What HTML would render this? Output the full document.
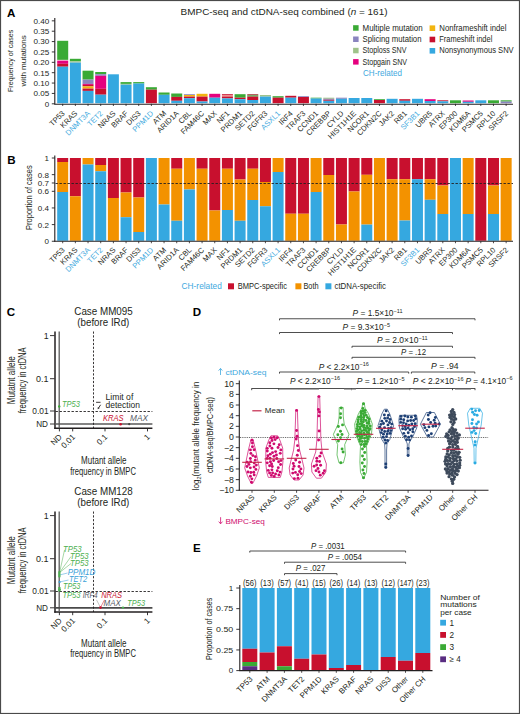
<!DOCTYPE html>
<html><head><meta charset="utf-8"><style>
html,body{margin:0;padding:0;background:#fff;}
svg{display:block;font-family:"Liberation Sans", sans-serif;}
</style></head><body>
<svg width="520" height="714" viewBox="0 0 520 714">
<rect width="520" height="714" fill="#fff"/>
<text x="6.90" y="16.80" font-size="11.6" fill="#000" font-weight="bold">A</text>
<text x="7.20" y="163.80" font-size="11.6" fill="#000" font-weight="bold">B</text>
<text x="6.80" y="316.20" font-size="11.6" fill="#000" font-weight="bold">C</text>
<text x="192.80" y="315.90" font-size="11.6" fill="#000" font-weight="bold">D</text>
<text x="192.90" y="551.90" font-size="11.6" fill="#000" font-weight="bold">E</text>
<rect x="57.20" y="40.80" width="11.00" height="19.10" fill="#3aaa35"/>
<rect x="57.20" y="59.90" width="11.00" height="0.90" fill="#f3b6cf"/>
<rect x="57.20" y="60.80" width="11.00" height="3.00" fill="#e5007e"/>
<rect x="57.20" y="63.80" width="11.00" height="2.90" fill="#c8102e"/>
<rect x="57.20" y="66.70" width="11.00" height="36.50" fill="#35a8e0"/>
<rect x="69.87" y="58.80" width="11.00" height="2.50" fill="#3aaa35"/>
<rect x="69.87" y="61.30" width="11.00" height="1.30" fill="#9fc38a"/>
<rect x="69.87" y="62.60" width="11.00" height="40.60" fill="#35a8e0"/>
<rect x="82.54" y="70.70" width="11.00" height="8.90" fill="#3aaa35"/>
<rect x="82.54" y="79.60" width="11.00" height="4.30" fill="#8a84bf"/>
<rect x="82.54" y="83.90" width="11.00" height="1.00" fill="#e5007e"/>
<rect x="82.54" y="84.90" width="11.00" height="1.50" fill="#c8102e"/>
<rect x="82.54" y="86.40" width="11.00" height="2.20" fill="#f2b50f"/>
<rect x="82.54" y="88.60" width="11.00" height="2.30" fill="#c8102e"/>
<rect x="82.54" y="90.90" width="11.00" height="12.30" fill="#35a8e0"/>
<rect x="95.21" y="72.00" width="11.00" height="2.20" fill="#3aaa35"/>
<rect x="95.21" y="74.20" width="11.00" height="1.60" fill="#8a84bf"/>
<rect x="95.21" y="75.80" width="11.00" height="13.00" fill="#e5007e"/>
<rect x="95.21" y="88.80" width="11.00" height="5.90" fill="#c8102e"/>
<rect x="95.21" y="94.70" width="11.00" height="8.50" fill="#35a8e0"/>
<rect x="107.88" y="74.30" width="11.00" height="28.90" fill="#35a8e0"/>
<rect x="120.55" y="82.10" width="11.00" height="1.80" fill="#3aaa35"/>
<rect x="120.55" y="83.90" width="11.00" height="0.80" fill="#9fc38a"/>
<rect x="120.55" y="84.70" width="11.00" height="18.50" fill="#35a8e0"/>
<rect x="133.22" y="82.10" width="11.00" height="1.40" fill="#3aaa35"/>
<rect x="133.22" y="83.50" width="11.00" height="19.70" fill="#35a8e0"/>
<rect x="145.89" y="87.20" width="11.00" height="2.50" fill="#3aaa35"/>
<rect x="145.89" y="89.70" width="11.00" height="13.50" fill="#c8102e"/>
<rect x="158.56" y="92.50" width="11.00" height="2.30" fill="#3aaa35"/>
<rect x="158.56" y="94.80" width="11.00" height="8.40" fill="#35a8e0"/>
<rect x="171.23" y="93.50" width="11.00" height="3.40" fill="#3aaa35"/>
<rect x="171.23" y="96.90" width="11.00" height="3.90" fill="#c8102e"/>
<rect x="171.23" y="100.80" width="11.00" height="2.40" fill="#35a8e0"/>
<rect x="183.90" y="94.20" width="11.00" height="0.80" fill="#8a84bf"/>
<rect x="183.90" y="95.00" width="11.00" height="1.60" fill="#f2b50f"/>
<rect x="183.90" y="96.60" width="11.00" height="1.60" fill="#c8102e"/>
<rect x="183.90" y="98.20" width="11.00" height="5.00" fill="#35a8e0"/>
<rect x="196.57" y="93.80" width="11.00" height="2.80" fill="#f2b50f"/>
<rect x="196.57" y="96.60" width="11.00" height="4.90" fill="#c8102e"/>
<rect x="196.57" y="101.50" width="11.00" height="1.70" fill="#35a8e0"/>
<rect x="209.24" y="93.80" width="11.00" height="3.90" fill="#e5007e"/>
<rect x="209.24" y="97.70" width="11.00" height="5.50" fill="#35a8e0"/>
<rect x="221.91" y="94.20" width="11.00" height="1.00" fill="#c8102e"/>
<rect x="221.91" y="95.20" width="11.00" height="1.40" fill="#f07c7c"/>
<rect x="221.91" y="96.60" width="11.00" height="1.80" fill="#c8102e"/>
<rect x="221.91" y="98.40" width="11.00" height="4.80" fill="#35a8e0"/>
<rect x="234.58" y="94.20" width="11.00" height="3.50" fill="#3aaa35"/>
<rect x="234.58" y="97.70" width="11.00" height="1.50" fill="#c8102e"/>
<rect x="234.58" y="99.20" width="11.00" height="4.00" fill="#35a8e0"/>
<rect x="247.25" y="94.20" width="11.00" height="1.20" fill="#a23a3a"/>
<rect x="247.25" y="95.40" width="11.00" height="1.20" fill="#3aaa35"/>
<rect x="247.25" y="96.60" width="11.00" height="3.40" fill="#c8102e"/>
<rect x="247.25" y="100.00" width="11.00" height="3.20" fill="#35a8e0"/>
<rect x="259.92" y="95.00" width="11.00" height="1.60" fill="#9fc38a"/>
<rect x="259.92" y="96.60" width="11.00" height="6.60" fill="#35a8e0"/>
<rect x="272.59" y="96.20" width="11.00" height="1.50" fill="#3aaa35"/>
<rect x="272.59" y="97.70" width="11.00" height="5.50" fill="#c8102e"/>
<rect x="285.26" y="95.80" width="11.00" height="1.90" fill="#c8102e"/>
<rect x="285.26" y="97.70" width="11.00" height="5.50" fill="#35a8e0"/>
<rect x="297.93" y="96.20" width="11.00" height="0.80" fill="#8a84bf"/>
<rect x="297.93" y="97.00" width="11.00" height="6.20" fill="#c8102e"/>
<rect x="310.60" y="97.70" width="11.00" height="0.80" fill="#3aaa35"/>
<rect x="310.60" y="98.50" width="11.00" height="4.70" fill="#35a8e0"/>
<rect x="323.27" y="97.70" width="11.00" height="1.10" fill="#9fc38a"/>
<rect x="323.27" y="98.80" width="11.00" height="1.00" fill="#8a84bf"/>
<rect x="323.27" y="99.80" width="11.00" height="1.00" fill="#c8102e"/>
<rect x="323.27" y="100.80" width="11.00" height="2.40" fill="#35a8e0"/>
<rect x="335.94" y="97.70" width="11.00" height="1.10" fill="#8a84bf"/>
<rect x="335.94" y="98.80" width="11.00" height="4.40" fill="#35a8e0"/>
<rect x="348.61" y="98.00" width="11.00" height="5.20" fill="#35a8e0"/>
<rect x="361.28" y="98.00" width="11.00" height="5.20" fill="#35a8e0"/>
<rect x="373.95" y="99.20" width="11.00" height="0.80" fill="#3aaa35"/>
<rect x="373.95" y="100.00" width="11.00" height="3.20" fill="#c8102e"/>
<rect x="386.62" y="98.80" width="11.00" height="4.40" fill="#35a8e0"/>
<rect x="399.29" y="99.20" width="11.00" height="1.60" fill="#c8102e"/>
<rect x="399.29" y="100.80" width="11.00" height="2.40" fill="#35a8e0"/>
<rect x="411.96" y="98.80" width="11.00" height="4.40" fill="#35a8e0"/>
<rect x="424.63" y="99.20" width="11.00" height="1.80" fill="#e5007e"/>
<rect x="424.63" y="101.00" width="11.00" height="2.20" fill="#35a8e0"/>
<rect x="437.30" y="100.30" width="11.00" height="1.00" fill="#c8102e"/>
<rect x="437.30" y="101.30" width="11.00" height="1.90" fill="#35a8e0"/>
<rect x="449.97" y="100.30" width="11.00" height="2.90" fill="#3aaa35"/>
<rect x="462.64" y="100.50" width="11.00" height="1.30" fill="#e5007e"/>
<rect x="462.64" y="101.80" width="11.00" height="1.40" fill="#35a8e0"/>
<rect x="475.31" y="100.30" width="11.00" height="2.90" fill="#35a8e0"/>
<rect x="487.98" y="100.30" width="11.00" height="2.90" fill="#3aaa35"/>
<rect x="500.65" y="100.30" width="11.00" height="1.30" fill="#3aaa35"/>
<rect x="500.65" y="101.60" width="11.00" height="1.60" fill="#8a84bf"/>
<line x1="54.80" y1="18.00" x2="54.80" y2="104.30" stroke="#231f20" stroke-width="1.1"/>
<line x1="54.30" y1="104.20" x2="513.00" y2="104.20" stroke="#231f20" stroke-width="1.1"/>
<line x1="51.80" y1="103.80" x2="54.80" y2="103.80" stroke="#231f20" stroke-width="0.9"/>
<text x="49.30" y="106.70" font-size="8.0" fill="#231f20" text-anchor="end">0</text>
<line x1="51.80" y1="93.43" x2="54.80" y2="93.43" stroke="#231f20" stroke-width="0.9"/>
<text x="49.30" y="96.33" font-size="8.0" fill="#231f20" text-anchor="end" textLength="15.80" lengthAdjust="spacingAndGlyphs">0.05</text>
<line x1="51.80" y1="83.06" x2="54.80" y2="83.06" stroke="#231f20" stroke-width="0.9"/>
<text x="49.30" y="85.96" font-size="8.0" fill="#231f20" text-anchor="end" textLength="15.80" lengthAdjust="spacingAndGlyphs">0.10</text>
<line x1="51.80" y1="72.69" x2="54.80" y2="72.69" stroke="#231f20" stroke-width="0.9"/>
<text x="49.30" y="75.59" font-size="8.0" fill="#231f20" text-anchor="end" textLength="15.80" lengthAdjust="spacingAndGlyphs">0.15</text>
<line x1="51.80" y1="62.32" x2="54.80" y2="62.32" stroke="#231f20" stroke-width="0.9"/>
<text x="49.30" y="65.22" font-size="8.0" fill="#231f20" text-anchor="end" textLength="15.80" lengthAdjust="spacingAndGlyphs">0.20</text>
<line x1="51.80" y1="51.95" x2="54.80" y2="51.95" stroke="#231f20" stroke-width="0.9"/>
<text x="49.30" y="54.85" font-size="8.0" fill="#231f20" text-anchor="end" textLength="15.80" lengthAdjust="spacingAndGlyphs">0.25</text>
<line x1="51.80" y1="41.58" x2="54.80" y2="41.58" stroke="#231f20" stroke-width="0.9"/>
<text x="49.30" y="44.48" font-size="8.0" fill="#231f20" text-anchor="end" textLength="15.80" lengthAdjust="spacingAndGlyphs">0.30</text>
<line x1="51.80" y1="31.21" x2="54.80" y2="31.21" stroke="#231f20" stroke-width="0.9"/>
<text x="49.30" y="34.11" font-size="8.0" fill="#231f20" text-anchor="end" textLength="15.80" lengthAdjust="spacingAndGlyphs">0.35</text>
<line x1="51.80" y1="20.84" x2="54.80" y2="20.84" stroke="#231f20" stroke-width="0.9"/>
<text x="49.30" y="23.74" font-size="8.0" fill="#231f20" text-anchor="end" textLength="15.80" lengthAdjust="spacingAndGlyphs">0.40</text>
<line x1="62.70" y1="103.80" x2="62.70" y2="106.00" stroke="#231f20" stroke-width="0.8"/>
<text x="65.30" y="113.90" font-size="7.6" fill="#231f20" text-anchor="end" transform="rotate(-45 65.30 113.90)">TP53</text>
<line x1="75.37" y1="103.80" x2="75.37" y2="106.00" stroke="#231f20" stroke-width="0.8"/>
<text x="77.97" y="113.90" font-size="7.6" fill="#231f20" text-anchor="end" transform="rotate(-45 77.97 113.90)">KRAS</text>
<line x1="88.04" y1="103.80" x2="88.04" y2="106.00" stroke="#231f20" stroke-width="0.8"/>
<text x="90.64" y="113.90" font-size="7.6" fill="#41a9de" text-anchor="end" transform="rotate(-45 90.64 113.90)">DNMT3A</text>
<line x1="100.71" y1="103.80" x2="100.71" y2="106.00" stroke="#231f20" stroke-width="0.8"/>
<text x="103.31" y="113.90" font-size="7.6" fill="#41a9de" text-anchor="end" transform="rotate(-45 103.31 113.90)">TET2</text>
<line x1="113.38" y1="103.80" x2="113.38" y2="106.00" stroke="#231f20" stroke-width="0.8"/>
<text x="115.98" y="113.90" font-size="7.6" fill="#231f20" text-anchor="end" transform="rotate(-45 115.98 113.90)">NRAS</text>
<line x1="126.05" y1="103.80" x2="126.05" y2="106.00" stroke="#231f20" stroke-width="0.8"/>
<text x="128.65" y="113.90" font-size="7.6" fill="#231f20" text-anchor="end" transform="rotate(-45 128.65 113.90)">BRAF</text>
<line x1="138.72" y1="103.80" x2="138.72" y2="106.00" stroke="#231f20" stroke-width="0.8"/>
<text x="141.32" y="113.90" font-size="7.6" fill="#231f20" text-anchor="end" transform="rotate(-45 141.32 113.90)">DIS3</text>
<line x1="151.39" y1="103.80" x2="151.39" y2="106.00" stroke="#231f20" stroke-width="0.8"/>
<text x="153.99" y="113.90" font-size="7.6" fill="#41a9de" text-anchor="end" transform="rotate(-45 153.99 113.90)">PPM1D</text>
<line x1="164.06" y1="103.80" x2="164.06" y2="106.00" stroke="#231f20" stroke-width="0.8"/>
<text x="166.66" y="113.90" font-size="7.6" fill="#231f20" text-anchor="end" transform="rotate(-45 166.66 113.90)">ATM</text>
<line x1="176.73" y1="103.80" x2="176.73" y2="106.00" stroke="#231f20" stroke-width="0.8"/>
<text x="179.33" y="113.90" font-size="7.6" fill="#231f20" text-anchor="end" transform="rotate(-45 179.33 113.90)">ARID1A</text>
<line x1="189.40" y1="103.80" x2="189.40" y2="106.00" stroke="#231f20" stroke-width="0.8"/>
<text x="192.00" y="113.90" font-size="7.6" fill="#231f20" text-anchor="end" transform="rotate(-45 192.00 113.90)">CBL</text>
<line x1="202.07" y1="103.80" x2="202.07" y2="106.00" stroke="#231f20" stroke-width="0.8"/>
<text x="204.67" y="113.90" font-size="7.6" fill="#231f20" text-anchor="end" transform="rotate(-45 204.67 113.90)">FAM46C</text>
<line x1="214.74" y1="103.80" x2="214.74" y2="106.00" stroke="#231f20" stroke-width="0.8"/>
<text x="217.34" y="113.90" font-size="7.6" fill="#231f20" text-anchor="end" transform="rotate(-45 217.34 113.90)">MAX</text>
<line x1="227.41" y1="103.80" x2="227.41" y2="106.00" stroke="#231f20" stroke-width="0.8"/>
<text x="230.01" y="113.90" font-size="7.6" fill="#231f20" text-anchor="end" transform="rotate(-45 230.01 113.90)">NF1</text>
<line x1="240.08" y1="103.80" x2="240.08" y2="106.00" stroke="#231f20" stroke-width="0.8"/>
<text x="242.68" y="113.90" font-size="7.6" fill="#231f20" text-anchor="end" transform="rotate(-45 242.68 113.90)">PRDM1</text>
<line x1="252.75" y1="103.80" x2="252.75" y2="106.00" stroke="#231f20" stroke-width="0.8"/>
<text x="255.35" y="113.90" font-size="7.6" fill="#231f20" text-anchor="end" transform="rotate(-45 255.35 113.90)">SETD2</text>
<line x1="265.42" y1="103.80" x2="265.42" y2="106.00" stroke="#231f20" stroke-width="0.8"/>
<text x="268.02" y="113.90" font-size="7.6" fill="#231f20" text-anchor="end" transform="rotate(-45 268.02 113.90)">FGFR3</text>
<line x1="278.09" y1="103.80" x2="278.09" y2="106.00" stroke="#231f20" stroke-width="0.8"/>
<text x="280.69" y="113.90" font-size="7.6" fill="#41a9de" text-anchor="end" transform="rotate(-45 280.69 113.90)">ASXL1</text>
<line x1="290.76" y1="103.80" x2="290.76" y2="106.00" stroke="#231f20" stroke-width="0.8"/>
<text x="293.36" y="113.90" font-size="7.6" fill="#231f20" text-anchor="end" transform="rotate(-45 293.36 113.90)">IRF4</text>
<line x1="303.43" y1="103.80" x2="303.43" y2="106.00" stroke="#231f20" stroke-width="0.8"/>
<text x="306.03" y="113.90" font-size="7.6" fill="#231f20" text-anchor="end" transform="rotate(-45 306.03 113.90)">TRAF3</text>
<line x1="316.10" y1="103.80" x2="316.10" y2="106.00" stroke="#231f20" stroke-width="0.8"/>
<text x="318.70" y="113.90" font-size="7.6" fill="#231f20" text-anchor="end" transform="rotate(-45 318.70 113.90)">CCND1</text>
<line x1="328.77" y1="103.80" x2="328.77" y2="106.00" stroke="#231f20" stroke-width="0.8"/>
<text x="331.37" y="113.90" font-size="7.6" fill="#231f20" text-anchor="end" transform="rotate(-45 331.37 113.90)">CREBBP</text>
<line x1="341.44" y1="103.80" x2="341.44" y2="106.00" stroke="#231f20" stroke-width="0.8"/>
<text x="344.04" y="113.90" font-size="7.6" fill="#231f20" text-anchor="end" transform="rotate(-45 344.04 113.90)">CYLD</text>
<line x1="354.11" y1="103.80" x2="354.11" y2="106.00" stroke="#231f20" stroke-width="0.8"/>
<text x="356.71" y="113.90" font-size="7.6" fill="#231f20" text-anchor="end" transform="rotate(-45 356.71 113.90)">HIST1H1E</text>
<line x1="366.78" y1="103.80" x2="366.78" y2="106.00" stroke="#231f20" stroke-width="0.8"/>
<text x="369.38" y="113.90" font-size="7.6" fill="#231f20" text-anchor="end" transform="rotate(-45 369.38 113.90)">NCOR1</text>
<line x1="379.45" y1="103.80" x2="379.45" y2="106.00" stroke="#231f20" stroke-width="0.8"/>
<text x="382.05" y="113.90" font-size="7.6" fill="#231f20" text-anchor="end" transform="rotate(-45 382.05 113.90)">CDKN2C</text>
<line x1="392.12" y1="103.80" x2="392.12" y2="106.00" stroke="#231f20" stroke-width="0.8"/>
<text x="394.72" y="113.90" font-size="7.6" fill="#231f20" text-anchor="end" transform="rotate(-45 394.72 113.90)">JAK2</text>
<line x1="404.79" y1="103.80" x2="404.79" y2="106.00" stroke="#231f20" stroke-width="0.8"/>
<text x="407.39" y="113.90" font-size="7.6" fill="#231f20" text-anchor="end" transform="rotate(-45 407.39 113.90)">RB1</text>
<line x1="417.46" y1="103.80" x2="417.46" y2="106.00" stroke="#231f20" stroke-width="0.8"/>
<text x="420.06" y="113.90" font-size="7.6" fill="#41a9de" text-anchor="end" transform="rotate(-45 420.06 113.90)">SF3B1</text>
<line x1="430.13" y1="103.80" x2="430.13" y2="106.00" stroke="#231f20" stroke-width="0.8"/>
<text x="432.73" y="113.90" font-size="7.6" fill="#231f20" text-anchor="end" transform="rotate(-45 432.73 113.90)">UBR5</text>
<line x1="442.80" y1="103.80" x2="442.80" y2="106.00" stroke="#231f20" stroke-width="0.8"/>
<text x="445.40" y="113.90" font-size="7.6" fill="#231f20" text-anchor="end" transform="rotate(-45 445.40 113.90)">ATRX</text>
<line x1="455.47" y1="103.80" x2="455.47" y2="106.00" stroke="#231f20" stroke-width="0.8"/>
<text x="458.07" y="113.90" font-size="7.6" fill="#231f20" text-anchor="end" transform="rotate(-45 458.07 113.90)">EP300</text>
<line x1="468.14" y1="103.80" x2="468.14" y2="106.00" stroke="#231f20" stroke-width="0.8"/>
<text x="470.74" y="113.90" font-size="7.6" fill="#231f20" text-anchor="end" transform="rotate(-45 470.74 113.90)">KDM6A</text>
<line x1="480.81" y1="103.80" x2="480.81" y2="106.00" stroke="#231f20" stroke-width="0.8"/>
<text x="483.41" y="113.90" font-size="7.6" fill="#231f20" text-anchor="end" transform="rotate(-45 483.41 113.90)">PSMC5</text>
<line x1="493.48" y1="103.80" x2="493.48" y2="106.00" stroke="#231f20" stroke-width="0.8"/>
<text x="496.08" y="113.90" font-size="7.6" fill="#231f20" text-anchor="end" transform="rotate(-45 496.08 113.90)">RPL10</text>
<line x1="506.15" y1="103.80" x2="506.15" y2="106.00" stroke="#231f20" stroke-width="0.8"/>
<text x="508.75" y="113.90" font-size="7.6" fill="#231f20" text-anchor="end" transform="rotate(-45 508.75 113.90)">SRSF2</text>
<text x="13.40" y="60.80" font-size="8.0" fill="#231f20" text-anchor="middle" textLength="62.40" lengthAdjust="spacingAndGlyphs" transform="rotate(-90 13.40 60.80)">Frequency of cases</text>
<text x="26.30" y="60.80" font-size="8.0" fill="#231f20" text-anchor="middle" textLength="51.20" lengthAdjust="spacingAndGlyphs" transform="rotate(-90 26.30 60.80)">with mutations</text>
<text x="180.6" y="15" font-size="9.9" fill="#231f20" textLength="206.9" lengthAdjust="spacingAndGlyphs">BMPC-seq and ctDNA-seq combined (<tspan font-style="italic">n</tspan> = 161)</text>
<rect x="353.10" y="25.20" width="5.50" height="5.50" fill="#3aaa35"/>
<text x="362.50" y="30.60" font-size="8.2" fill="#231f20" textLength="60.20" lengthAdjust="spacingAndGlyphs">Multiple mutation</text>
<rect x="353.10" y="36.50" width="5.50" height="5.50" fill="#8a84bf"/>
<text x="362.50" y="41.90" font-size="8.2" fill="#231f20" textLength="59.00" lengthAdjust="spacingAndGlyphs">Splicing mutation</text>
<rect x="353.10" y="47.80" width="5.50" height="5.50" fill="#9fc38a"/>
<text x="362.50" y="53.20" font-size="8.2" fill="#231f20" textLength="44.00" lengthAdjust="spacingAndGlyphs">Stoploss SNV</text>
<rect x="353.10" y="59.10" width="5.50" height="5.50" fill="#e5007e"/>
<text x="362.50" y="64.50" font-size="8.2" fill="#231f20" textLength="44.50" lengthAdjust="spacingAndGlyphs">Stopgain SNV</text>
<text x="363.00" y="76.00" font-size="8.4" fill="#41a9de" textLength="39.00" lengthAdjust="spacingAndGlyphs">CH-related</text>
<rect x="429.60" y="25.40" width="5.60" height="5.60" fill="#f2b50f"/>
<text x="439.30" y="30.80" font-size="8.2" fill="#231f20" textLength="67.10" lengthAdjust="spacingAndGlyphs">Nonframeshift indel</text>
<rect x="429.60" y="36.70" width="5.60" height="5.60" fill="#c8102e"/>
<text x="439.30" y="42.10" font-size="8.2" fill="#231f20" textLength="53.00" lengthAdjust="spacingAndGlyphs">Frameshift indel</text>
<rect x="429.60" y="48.00" width="5.60" height="5.60" fill="#35a8e0"/>
<text x="439.30" y="53.40" font-size="8.2" fill="#231f20" textLength="74.40" lengthAdjust="spacingAndGlyphs">Nonsynonymous SNV</text>
<rect x="57.20" y="158.00" width="11.00" height="4.00" fill="#c8102e"/>
<rect x="57.20" y="162.00" width="11.00" height="30.00" fill="#f39200"/>
<rect x="57.20" y="192.00" width="11.00" height="48.75" fill="#35a8e0"/>
<rect x="69.87" y="158.00" width="11.00" height="38.25" fill="#c8102e"/>
<rect x="69.87" y="196.25" width="11.00" height="44.50" fill="#f39200"/>
<rect x="82.54" y="158.00" width="11.00" height="6.50" fill="#f39200"/>
<rect x="82.54" y="164.50" width="11.00" height="76.25" fill="#35a8e0"/>
<rect x="95.21" y="158.00" width="11.00" height="7.00" fill="#c8102e"/>
<rect x="95.21" y="165.00" width="11.00" height="6.25" fill="#f39200"/>
<rect x="95.21" y="171.25" width="11.00" height="69.50" fill="#35a8e0"/>
<rect x="107.88" y="158.00" width="11.00" height="40.00" fill="#c8102e"/>
<rect x="107.88" y="198.00" width="11.00" height="42.75" fill="#f39200"/>
<rect x="120.55" y="158.00" width="11.00" height="34.50" fill="#c8102e"/>
<rect x="120.55" y="192.50" width="11.00" height="24.70" fill="#f39200"/>
<rect x="120.55" y="217.20" width="11.00" height="23.55" fill="#35a8e0"/>
<rect x="133.22" y="158.00" width="11.00" height="39.50" fill="#c8102e"/>
<rect x="133.22" y="197.50" width="11.00" height="34.50" fill="#f39200"/>
<rect x="133.22" y="232.00" width="11.00" height="8.75" fill="#35a8e0"/>
<rect x="145.89" y="158.00" width="11.00" height="82.75" fill="#35a8e0"/>
<rect x="158.56" y="158.00" width="11.00" height="46.50" fill="#f39200"/>
<rect x="158.56" y="204.50" width="11.00" height="36.25" fill="#35a8e0"/>
<rect x="171.23" y="158.00" width="11.00" height="10.75" fill="#c8102e"/>
<rect x="171.23" y="168.75" width="11.00" height="52.00" fill="#f39200"/>
<rect x="171.23" y="220.75" width="11.00" height="20.00" fill="#35a8e0"/>
<rect x="183.90" y="158.00" width="11.00" height="31.50" fill="#f39200"/>
<rect x="183.90" y="189.50" width="11.00" height="51.25" fill="#35a8e0"/>
<rect x="196.57" y="158.00" width="11.00" height="10.75" fill="#c8102e"/>
<rect x="196.57" y="168.75" width="11.00" height="72.00" fill="#f39200"/>
<rect x="209.24" y="158.00" width="11.00" height="52.50" fill="#c8102e"/>
<rect x="209.24" y="210.50" width="11.00" height="30.25" fill="#f39200"/>
<rect x="221.91" y="158.00" width="11.00" height="10.75" fill="#c8102e"/>
<rect x="221.91" y="168.75" width="11.00" height="41.25" fill="#f39200"/>
<rect x="221.91" y="210.00" width="11.00" height="30.75" fill="#35a8e0"/>
<rect x="234.58" y="158.00" width="11.00" height="21.50" fill="#c8102e"/>
<rect x="234.58" y="179.50" width="11.00" height="41.25" fill="#f39200"/>
<rect x="234.58" y="220.75" width="11.00" height="20.00" fill="#35a8e0"/>
<rect x="247.25" y="158.00" width="11.00" height="10.75" fill="#c8102e"/>
<rect x="247.25" y="168.75" width="11.00" height="31.25" fill="#f39200"/>
<rect x="247.25" y="200.00" width="11.00" height="40.75" fill="#35a8e0"/>
<rect x="259.92" y="158.00" width="11.00" height="24.00" fill="#c8102e"/>
<rect x="259.92" y="182.00" width="11.00" height="24.25" fill="#f39200"/>
<rect x="259.92" y="206.25" width="11.00" height="34.50" fill="#35a8e0"/>
<rect x="272.59" y="158.00" width="11.00" height="14.00" fill="#f39200"/>
<rect x="272.59" y="172.00" width="11.00" height="68.75" fill="#35a8e0"/>
<rect x="285.26" y="158.00" width="11.00" height="55.75" fill="#c8102e"/>
<rect x="285.26" y="213.75" width="11.00" height="27.00" fill="#f39200"/>
<rect x="297.93" y="158.00" width="11.00" height="55.75" fill="#c8102e"/>
<rect x="297.93" y="213.75" width="11.00" height="27.00" fill="#f39200"/>
<rect x="310.60" y="158.00" width="11.00" height="34.00" fill="#f39200"/>
<rect x="310.60" y="192.00" width="11.00" height="48.75" fill="#35a8e0"/>
<rect x="323.27" y="158.00" width="11.00" height="17.00" fill="#c8102e"/>
<rect x="323.27" y="175.00" width="11.00" height="65.75" fill="#f39200"/>
<rect x="335.94" y="158.00" width="11.00" height="66.50" fill="#c8102e"/>
<rect x="335.94" y="224.50" width="11.00" height="16.25" fill="#f39200"/>
<rect x="348.61" y="158.00" width="11.00" height="33.50" fill="#c8102e"/>
<rect x="348.61" y="191.50" width="11.00" height="49.25" fill="#f39200"/>
<rect x="361.28" y="158.00" width="11.00" height="16.80" fill="#c8102e"/>
<rect x="361.28" y="174.80" width="11.00" height="49.80" fill="#f39200"/>
<rect x="361.28" y="224.60" width="11.00" height="16.15" fill="#35a8e0"/>
<rect x="373.95" y="158.00" width="11.00" height="82.75" fill="#f39200"/>
<rect x="386.62" y="158.00" width="11.00" height="21.20" fill="#c8102e"/>
<rect x="386.62" y="179.20" width="11.00" height="61.55" fill="#f39200"/>
<rect x="399.29" y="158.00" width="11.00" height="21.20" fill="#c8102e"/>
<rect x="399.29" y="179.20" width="11.00" height="41.30" fill="#f39200"/>
<rect x="399.29" y="220.50" width="11.00" height="20.25" fill="#35a8e0"/>
<rect x="411.96" y="158.00" width="11.00" height="21.20" fill="#c8102e"/>
<rect x="411.96" y="179.20" width="11.00" height="61.55" fill="#35a8e0"/>
<rect x="424.63" y="158.00" width="11.00" height="21.20" fill="#c8102e"/>
<rect x="424.63" y="179.20" width="11.00" height="20.60" fill="#f39200"/>
<rect x="424.63" y="199.80" width="11.00" height="40.95" fill="#35a8e0"/>
<rect x="437.30" y="158.00" width="11.00" height="27.50" fill="#c8102e"/>
<rect x="437.30" y="185.50" width="11.00" height="28.50" fill="#f39200"/>
<rect x="437.30" y="214.00" width="11.00" height="26.75" fill="#35a8e0"/>
<rect x="449.97" y="158.00" width="11.00" height="82.75" fill="#35a8e0"/>
<rect x="462.64" y="158.00" width="11.00" height="56.00" fill="#f39200"/>
<rect x="462.64" y="214.00" width="11.00" height="26.75" fill="#35a8e0"/>
<rect x="475.31" y="158.00" width="11.00" height="82.75" fill="#c8102e"/>
<rect x="487.98" y="158.00" width="11.00" height="27.50" fill="#c8102e"/>
<rect x="487.98" y="185.50" width="11.00" height="28.50" fill="#f39200"/>
<rect x="487.98" y="214.00" width="11.00" height="26.75" fill="#35a8e0"/>
<rect x="500.65" y="158.00" width="11.00" height="82.75" fill="#f39200"/>
<line x1="54.80" y1="155.60" x2="54.80" y2="241.75" stroke="#231f20" stroke-width="1.1"/>
<line x1="54.30" y1="241.25" x2="513.00" y2="241.25" stroke="#231f20" stroke-width="1.1"/>
<line x1="51.80" y1="158.00" x2="54.80" y2="158.00" stroke="#231f20" stroke-width="0.9"/>
<text x="49.00" y="160.90" font-size="8.0" fill="#231f20" text-anchor="end">1</text>
<line x1="51.80" y1="174.65" x2="54.80" y2="174.65" stroke="#231f20" stroke-width="0.9"/>
<text x="49.00" y="177.55" font-size="8.0" fill="#231f20" text-anchor="end" textLength="11.20" lengthAdjust="spacingAndGlyphs">0.8</text>
<line x1="51.80" y1="182.97" x2="54.80" y2="182.97" stroke="#231f20" stroke-width="0.9"/>
<text x="49.00" y="185.88" font-size="8.0" fill="#231f20" text-anchor="end" textLength="11.20" lengthAdjust="spacingAndGlyphs">0.7</text>
<line x1="51.80" y1="191.30" x2="54.80" y2="191.30" stroke="#231f20" stroke-width="0.9"/>
<text x="49.00" y="194.20" font-size="8.0" fill="#231f20" text-anchor="end" textLength="11.20" lengthAdjust="spacingAndGlyphs">0.6</text>
<line x1="51.80" y1="207.95" x2="54.80" y2="207.95" stroke="#231f20" stroke-width="0.9"/>
<text x="49.00" y="210.85" font-size="8.0" fill="#231f20" text-anchor="end" textLength="11.20" lengthAdjust="spacingAndGlyphs">0.4</text>
<line x1="51.80" y1="224.60" x2="54.80" y2="224.60" stroke="#231f20" stroke-width="0.9"/>
<text x="49.00" y="227.50" font-size="8.0" fill="#231f20" text-anchor="end" textLength="11.20" lengthAdjust="spacingAndGlyphs">0.2</text>
<line x1="51.80" y1="241.25" x2="54.80" y2="241.25" stroke="#231f20" stroke-width="0.9"/>
<text x="49.00" y="244.15" font-size="8.0" fill="#231f20" text-anchor="end">0</text>
<line x1="55.50" y1="183.50" x2="513.00" y2="183.50" stroke="#231f20" stroke-width="0.9" stroke-dasharray="2.4,1.6"/>
<line x1="62.70" y1="241.25" x2="62.70" y2="243.25" stroke="#231f20" stroke-width="0.8"/>
<text x="65.30" y="250.50" font-size="7.6" fill="#231f20" text-anchor="end" transform="rotate(-45 65.30 250.50)">TP53</text>
<line x1="75.37" y1="241.25" x2="75.37" y2="243.25" stroke="#231f20" stroke-width="0.8"/>
<text x="77.97" y="250.50" font-size="7.6" fill="#231f20" text-anchor="end" transform="rotate(-45 77.97 250.50)">KRAS</text>
<line x1="88.04" y1="241.25" x2="88.04" y2="243.25" stroke="#231f20" stroke-width="0.8"/>
<text x="90.64" y="250.50" font-size="7.6" fill="#41a9de" text-anchor="end" transform="rotate(-45 90.64 250.50)">DNMT3A</text>
<line x1="100.71" y1="241.25" x2="100.71" y2="243.25" stroke="#231f20" stroke-width="0.8"/>
<text x="103.31" y="250.50" font-size="7.6" fill="#41a9de" text-anchor="end" transform="rotate(-45 103.31 250.50)">TET2</text>
<line x1="113.38" y1="241.25" x2="113.38" y2="243.25" stroke="#231f20" stroke-width="0.8"/>
<text x="115.98" y="250.50" font-size="7.6" fill="#231f20" text-anchor="end" transform="rotate(-45 115.98 250.50)">NRAS</text>
<line x1="126.05" y1="241.25" x2="126.05" y2="243.25" stroke="#231f20" stroke-width="0.8"/>
<text x="128.65" y="250.50" font-size="7.6" fill="#231f20" text-anchor="end" transform="rotate(-45 128.65 250.50)">BRAF</text>
<line x1="138.72" y1="241.25" x2="138.72" y2="243.25" stroke="#231f20" stroke-width="0.8"/>
<text x="141.32" y="250.50" font-size="7.6" fill="#231f20" text-anchor="end" transform="rotate(-45 141.32 250.50)">DIS3</text>
<line x1="151.39" y1="241.25" x2="151.39" y2="243.25" stroke="#231f20" stroke-width="0.8"/>
<text x="153.99" y="250.50" font-size="7.6" fill="#41a9de" text-anchor="end" transform="rotate(-45 153.99 250.50)">PPM1D</text>
<line x1="164.06" y1="241.25" x2="164.06" y2="243.25" stroke="#231f20" stroke-width="0.8"/>
<text x="166.66" y="250.50" font-size="7.6" fill="#231f20" text-anchor="end" transform="rotate(-45 166.66 250.50)">ATM</text>
<line x1="176.73" y1="241.25" x2="176.73" y2="243.25" stroke="#231f20" stroke-width="0.8"/>
<text x="179.33" y="250.50" font-size="7.6" fill="#231f20" text-anchor="end" transform="rotate(-45 179.33 250.50)">ARID1A</text>
<line x1="189.40" y1="241.25" x2="189.40" y2="243.25" stroke="#231f20" stroke-width="0.8"/>
<text x="192.00" y="250.50" font-size="7.6" fill="#231f20" text-anchor="end" transform="rotate(-45 192.00 250.50)">CBL</text>
<line x1="202.07" y1="241.25" x2="202.07" y2="243.25" stroke="#231f20" stroke-width="0.8"/>
<text x="204.67" y="250.50" font-size="7.6" fill="#231f20" text-anchor="end" transform="rotate(-45 204.67 250.50)">FAM46C</text>
<line x1="214.74" y1="241.25" x2="214.74" y2="243.25" stroke="#231f20" stroke-width="0.8"/>
<text x="217.34" y="250.50" font-size="7.6" fill="#231f20" text-anchor="end" transform="rotate(-45 217.34 250.50)">MAX</text>
<line x1="227.41" y1="241.25" x2="227.41" y2="243.25" stroke="#231f20" stroke-width="0.8"/>
<text x="230.01" y="250.50" font-size="7.6" fill="#231f20" text-anchor="end" transform="rotate(-45 230.01 250.50)">NF1</text>
<line x1="240.08" y1="241.25" x2="240.08" y2="243.25" stroke="#231f20" stroke-width="0.8"/>
<text x="242.68" y="250.50" font-size="7.6" fill="#231f20" text-anchor="end" transform="rotate(-45 242.68 250.50)">PRDM1</text>
<line x1="252.75" y1="241.25" x2="252.75" y2="243.25" stroke="#231f20" stroke-width="0.8"/>
<text x="255.35" y="250.50" font-size="7.6" fill="#231f20" text-anchor="end" transform="rotate(-45 255.35 250.50)">SETD2</text>
<line x1="265.42" y1="241.25" x2="265.42" y2="243.25" stroke="#231f20" stroke-width="0.8"/>
<text x="268.02" y="250.50" font-size="7.6" fill="#231f20" text-anchor="end" transform="rotate(-45 268.02 250.50)">FGFR3</text>
<line x1="278.09" y1="241.25" x2="278.09" y2="243.25" stroke="#231f20" stroke-width="0.8"/>
<text x="280.69" y="250.50" font-size="7.6" fill="#41a9de" text-anchor="end" transform="rotate(-45 280.69 250.50)">ASXL1</text>
<line x1="290.76" y1="241.25" x2="290.76" y2="243.25" stroke="#231f20" stroke-width="0.8"/>
<text x="293.36" y="250.50" font-size="7.6" fill="#231f20" text-anchor="end" transform="rotate(-45 293.36 250.50)">IRF4</text>
<line x1="303.43" y1="241.25" x2="303.43" y2="243.25" stroke="#231f20" stroke-width="0.8"/>
<text x="306.03" y="250.50" font-size="7.6" fill="#231f20" text-anchor="end" transform="rotate(-45 306.03 250.50)">TRAF3</text>
<line x1="316.10" y1="241.25" x2="316.10" y2="243.25" stroke="#231f20" stroke-width="0.8"/>
<text x="318.70" y="250.50" font-size="7.6" fill="#231f20" text-anchor="end" transform="rotate(-45 318.70 250.50)">CCND1</text>
<line x1="328.77" y1="241.25" x2="328.77" y2="243.25" stroke="#231f20" stroke-width="0.8"/>
<text x="331.37" y="250.50" font-size="7.6" fill="#231f20" text-anchor="end" transform="rotate(-45 331.37 250.50)">CREBBP</text>
<line x1="341.44" y1="241.25" x2="341.44" y2="243.25" stroke="#231f20" stroke-width="0.8"/>
<text x="344.04" y="250.50" font-size="7.6" fill="#231f20" text-anchor="end" transform="rotate(-45 344.04 250.50)">CYLD</text>
<line x1="354.11" y1="241.25" x2="354.11" y2="243.25" stroke="#231f20" stroke-width="0.8"/>
<text x="356.71" y="250.50" font-size="7.6" fill="#231f20" text-anchor="end" transform="rotate(-45 356.71 250.50)">HIST1H1E</text>
<line x1="366.78" y1="241.25" x2="366.78" y2="243.25" stroke="#231f20" stroke-width="0.8"/>
<text x="369.38" y="250.50" font-size="7.6" fill="#231f20" text-anchor="end" transform="rotate(-45 369.38 250.50)">NCOR1</text>
<line x1="379.45" y1="241.25" x2="379.45" y2="243.25" stroke="#231f20" stroke-width="0.8"/>
<text x="382.05" y="250.50" font-size="7.6" fill="#231f20" text-anchor="end" transform="rotate(-45 382.05 250.50)">CDKN2C</text>
<line x1="392.12" y1="241.25" x2="392.12" y2="243.25" stroke="#231f20" stroke-width="0.8"/>
<text x="394.72" y="250.50" font-size="7.6" fill="#231f20" text-anchor="end" transform="rotate(-45 394.72 250.50)">JAK2</text>
<line x1="404.79" y1="241.25" x2="404.79" y2="243.25" stroke="#231f20" stroke-width="0.8"/>
<text x="407.39" y="250.50" font-size="7.6" fill="#231f20" text-anchor="end" transform="rotate(-45 407.39 250.50)">RB1</text>
<line x1="417.46" y1="241.25" x2="417.46" y2="243.25" stroke="#231f20" stroke-width="0.8"/>
<text x="420.06" y="250.50" font-size="7.6" fill="#41a9de" text-anchor="end" transform="rotate(-45 420.06 250.50)">SF3B1</text>
<line x1="430.13" y1="241.25" x2="430.13" y2="243.25" stroke="#231f20" stroke-width="0.8"/>
<text x="432.73" y="250.50" font-size="7.6" fill="#231f20" text-anchor="end" transform="rotate(-45 432.73 250.50)">UBR5</text>
<line x1="442.80" y1="241.25" x2="442.80" y2="243.25" stroke="#231f20" stroke-width="0.8"/>
<text x="445.40" y="250.50" font-size="7.6" fill="#231f20" text-anchor="end" transform="rotate(-45 445.40 250.50)">ATRX</text>
<line x1="455.47" y1="241.25" x2="455.47" y2="243.25" stroke="#231f20" stroke-width="0.8"/>
<text x="458.07" y="250.50" font-size="7.6" fill="#231f20" text-anchor="end" transform="rotate(-45 458.07 250.50)">EP300</text>
<line x1="468.14" y1="241.25" x2="468.14" y2="243.25" stroke="#231f20" stroke-width="0.8"/>
<text x="470.74" y="250.50" font-size="7.6" fill="#231f20" text-anchor="end" transform="rotate(-45 470.74 250.50)">KDM6A</text>
<line x1="480.81" y1="241.25" x2="480.81" y2="243.25" stroke="#231f20" stroke-width="0.8"/>
<text x="483.41" y="250.50" font-size="7.6" fill="#231f20" text-anchor="end" transform="rotate(-45 483.41 250.50)">PSMC5</text>
<line x1="493.48" y1="241.25" x2="493.48" y2="243.25" stroke="#231f20" stroke-width="0.8"/>
<text x="496.08" y="250.50" font-size="7.6" fill="#231f20" text-anchor="end" transform="rotate(-45 496.08 250.50)">RPL10</text>
<line x1="506.15" y1="241.25" x2="506.15" y2="243.25" stroke="#231f20" stroke-width="0.8"/>
<text x="508.75" y="250.50" font-size="7.6" fill="#231f20" text-anchor="end" transform="rotate(-45 508.75 250.50)">SRSF2</text>
<text x="31.70" y="197.60" font-size="8.4" fill="#231f20" text-anchor="middle" textLength="64.60" lengthAdjust="spacingAndGlyphs" transform="rotate(-90 31.70 197.60)">Proportion of cases</text>
<text x="181.60" y="288.70" font-size="8.4" fill="#41a9de" textLength="40.20" lengthAdjust="spacingAndGlyphs">CH-related</text>
<rect x="228.00" y="283.30" width="6.00" height="6.00" fill="#c8102e"/>
<text x="237.70" y="288.80" font-size="8.2" fill="#231f20" textLength="49.30" lengthAdjust="spacingAndGlyphs">BMPC-specific</text>
<rect x="295.40" y="283.30" width="6.00" height="6.00" fill="#f39200"/>
<text x="303.40" y="288.80" font-size="8.2" fill="#231f20" textLength="15.20" lengthAdjust="spacingAndGlyphs">Both</text>
<rect x="325.40" y="283.30" width="6.00" height="6.00" fill="#35a8e0"/>
<text x="334.50" y="288.80" font-size="8.2" fill="#231f20" textLength="51.50" lengthAdjust="spacingAndGlyphs">ctDNA-specific</text>
<text x="103.50" y="315.10" font-size="10.2" fill="#231f20" text-anchor="middle" textLength="58.40" lengthAdjust="spacingAndGlyphs">Case MM095</text>
<text x="103.30" y="326.00" font-size="10.2" fill="#231f20" text-anchor="middle" textLength="52.00" lengthAdjust="spacingAndGlyphs">(before IRd)</text>
<line x1="55.00" y1="331.50" x2="55.00" y2="428.90" stroke="#231f20" stroke-width="1.5"/>
<line x1="54.30" y1="428.20" x2="152.40" y2="428.20" stroke="#231f20" stroke-width="1.5"/>
<line x1="59.20" y1="331.50" x2="59.20" y2="428.20" stroke="#5a5a5a" stroke-width="1.3"/>
<line x1="55.00" y1="424.00" x2="152.40" y2="424.00" stroke="#5a5a5a" stroke-width="1.3"/>
<line x1="93.50" y1="331.50" x2="93.50" y2="428.20" stroke="#231f20" stroke-width="0.9" stroke-dasharray="2.2,1.6"/>
<line x1="55.50" y1="411.50" x2="152.40" y2="411.50" stroke="#231f20" stroke-width="0.9" stroke-dasharray="2.4,1.6"/>
<line x1="50.00" y1="335.60" x2="54.60" y2="335.60" stroke="#231f20" stroke-width="0.9"/>
<text x="48.60" y="338.70" font-size="8.8" fill="#231f20" text-anchor="end">1</text>
<line x1="50.00" y1="378.70" x2="54.60" y2="378.70" stroke="#231f20" stroke-width="0.9"/>
<text x="48.60" y="381.80" font-size="8.8" fill="#231f20" text-anchor="end" textLength="12.50" lengthAdjust="spacingAndGlyphs">0.1</text>
<line x1="50.00" y1="411.00" x2="54.60" y2="411.00" stroke="#231f20" stroke-width="0.9"/>
<text x="48.60" y="414.10" font-size="8.8" fill="#231f20" text-anchor="end" textLength="16.30" lengthAdjust="spacingAndGlyphs">0.01</text>
<line x1="50.00" y1="424.00" x2="54.60" y2="424.00" stroke="#231f20" stroke-width="0.9"/>
<text x="48.00" y="427.10" font-size="8.8" fill="#231f20" text-anchor="end" textLength="11.80" lengthAdjust="spacingAndGlyphs">ND</text>
<line x1="59.40" y1="428.20" x2="59.40" y2="431.40" stroke="#231f20" stroke-width="0.9"/>
<text x="62.40" y="437.50" font-size="8.2" fill="#231f20" text-anchor="end" transform="rotate(-45 62.40 437.50)">ND</text>
<line x1="72.70" y1="428.20" x2="72.70" y2="431.40" stroke="#231f20" stroke-width="0.9"/>
<text x="75.70" y="437.50" font-size="8.2" fill="#231f20" text-anchor="end" transform="rotate(-45 75.70 437.50)">0.01</text>
<line x1="105.00" y1="428.20" x2="105.00" y2="431.40" stroke="#231f20" stroke-width="0.9"/>
<text x="108.00" y="437.50" font-size="8.2" fill="#231f20" text-anchor="end" transform="rotate(-45 108.00 437.50)">0.1</text>
<line x1="147.50" y1="428.20" x2="147.50" y2="431.40" stroke="#231f20" stroke-width="0.9"/>
<text x="150.50" y="437.50" font-size="8.2" fill="#231f20" text-anchor="end" transform="rotate(-45 150.50 437.50)">1</text>
<text x="15.00" y="380.30" font-size="10.0" fill="#231f20" text-anchor="middle" textLength="48.00" lengthAdjust="spacingAndGlyphs" transform="rotate(-90 15.00 380.30)">Mutatnt allele</text>
<text x="25.80" y="380.30" font-size="10.0" fill="#231f20" text-anchor="middle" textLength="66.00" lengthAdjust="spacingAndGlyphs" transform="rotate(-90 25.80 380.30)">frequency in ctDNA</text>
<text x="103.80" y="463.50" font-size="10.0" fill="#231f20" text-anchor="middle" textLength="45.60" lengthAdjust="spacingAndGlyphs">Mutant allele</text>
<text x="103.10" y="474.50" font-size="10.0" fill="#231f20" text-anchor="middle" textLength="65.80" lengthAdjust="spacingAndGlyphs">frequency in BMPC</text>
<text x="103.50" y="495.10" font-size="10.2" fill="#231f20" text-anchor="middle" textLength="58.40" lengthAdjust="spacingAndGlyphs">Case MM128</text>
<text x="103.30" y="506.00" font-size="10.2" fill="#231f20" text-anchor="middle" textLength="52.00" lengthAdjust="spacingAndGlyphs">(before IRd)</text>
<line x1="55.00" y1="511.50" x2="55.00" y2="612.70" stroke="#231f20" stroke-width="1.5"/>
<line x1="54.30" y1="612.00" x2="152.40" y2="612.00" stroke="#231f20" stroke-width="1.5"/>
<line x1="59.20" y1="511.50" x2="59.20" y2="612.00" stroke="#5a5a5a" stroke-width="1.3"/>
<line x1="55.00" y1="607.80" x2="152.40" y2="607.80" stroke="#4a4a4a" stroke-width="1.7"/>
<line x1="93.50" y1="511.50" x2="93.50" y2="612.00" stroke="#231f20" stroke-width="0.9" stroke-dasharray="2.2,1.6"/>
<line x1="55.50" y1="591.50" x2="152.40" y2="591.50" stroke="#231f20" stroke-width="0.9" stroke-dasharray="2.4,1.6"/>
<line x1="50.00" y1="515.60" x2="54.60" y2="515.60" stroke="#231f20" stroke-width="0.9"/>
<text x="48.60" y="518.70" font-size="8.8" fill="#231f20" text-anchor="end">1</text>
<line x1="50.00" y1="558.70" x2="54.60" y2="558.70" stroke="#231f20" stroke-width="0.9"/>
<text x="48.60" y="561.80" font-size="8.8" fill="#231f20" text-anchor="end" textLength="12.50" lengthAdjust="spacingAndGlyphs">0.1</text>
<line x1="50.00" y1="591.00" x2="54.60" y2="591.00" stroke="#231f20" stroke-width="0.9"/>
<text x="48.60" y="594.10" font-size="8.8" fill="#231f20" text-anchor="end" textLength="16.30" lengthAdjust="spacingAndGlyphs">0.01</text>
<line x1="50.00" y1="607.80" x2="54.60" y2="607.80" stroke="#231f20" stroke-width="0.9"/>
<text x="48.00" y="610.90" font-size="8.8" fill="#231f20" text-anchor="end" textLength="11.80" lengthAdjust="spacingAndGlyphs">ND</text>
<line x1="59.40" y1="612.00" x2="59.40" y2="615.20" stroke="#231f20" stroke-width="0.9"/>
<text x="62.40" y="621.30" font-size="8.2" fill="#231f20" text-anchor="end" transform="rotate(-45 62.40 621.30)">ND</text>
<line x1="72.70" y1="612.00" x2="72.70" y2="615.20" stroke="#231f20" stroke-width="0.9"/>
<text x="75.70" y="621.30" font-size="8.2" fill="#231f20" text-anchor="end" transform="rotate(-45 75.70 621.30)">0.01</text>
<line x1="105.00" y1="612.00" x2="105.00" y2="615.20" stroke="#231f20" stroke-width="0.9"/>
<text x="108.00" y="621.30" font-size="8.2" fill="#231f20" text-anchor="end" transform="rotate(-45 108.00 621.30)">0.1</text>
<line x1="147.50" y1="612.00" x2="147.50" y2="615.20" stroke="#231f20" stroke-width="0.9"/>
<text x="150.50" y="621.30" font-size="8.2" fill="#231f20" text-anchor="end" transform="rotate(-45 150.50 621.30)">1</text>
<text x="15.00" y="560.30" font-size="10.0" fill="#231f20" text-anchor="middle" textLength="48.00" lengthAdjust="spacingAndGlyphs" transform="rotate(-90 15.00 560.30)">Mutatnt allele</text>
<text x="25.80" y="560.30" font-size="10.0" fill="#231f20" text-anchor="middle" textLength="66.00" lengthAdjust="spacingAndGlyphs" transform="rotate(-90 25.80 560.30)">frequency in ctDNA</text>
<text x="103.80" y="646.50" font-size="10.0" fill="#231f20" text-anchor="middle" textLength="45.60" lengthAdjust="spacingAndGlyphs">Mutant allele</text>
<text x="103.10" y="657.30" font-size="10.0" fill="#231f20" text-anchor="middle" textLength="65.80" lengthAdjust="spacingAndGlyphs">frequency in BMPC</text>
<circle cx="59.2" cy="406.4" r="1.2" fill="#3aaa35"/>
<text x="62.00" y="407.00" font-size="8.8" fill="#4caf50" textLength="18.00" lengthAdjust="spacingAndGlyphs" font-style="italic">TP53</text>
<text x="105.60" y="400.00" font-size="8.9" fill="#231f20" textLength="27.70" lengthAdjust="spacingAndGlyphs">Limit of</text>
<text x="105.60" y="407.60" font-size="8.9" fill="#231f20" textLength="34.40" lengthAdjust="spacingAndGlyphs">detection</text>
<path d="M96.1,402.3 L100.5,402.3 M100.6,404.8 L98.6,408.0" stroke="#231f20" stroke-width="0.9" fill="none"/>
<path d="M97.6,409.2 L97.9,406.9 L99.6,408.3 Z" fill="#231f20"/>
<text x="103.00" y="421.00" font-size="8.8" fill="#c8102e" textLength="20.50" lengthAdjust="spacingAndGlyphs" font-style="italic">KRAS</text>
<text x="130.00" y="421.00" font-size="8.8" fill="#555a66" textLength="18.00" lengthAdjust="spacingAndGlyphs" font-style="italic">MAX</text>
<circle cx="120.6" cy="424.2" r="1.3" fill="#c8102e"/>
<circle cx="129.2" cy="424.2" r="1.1" fill="#444"/>
<text x="63.00" y="552.00" font-size="8.8" fill="#4caf50" textLength="18.60" lengthAdjust="spacingAndGlyphs" font-style="italic">TP53</text>
<text x="70.00" y="558.90" font-size="8.8" fill="#4caf50" textLength="18.50" lengthAdjust="spacingAndGlyphs" font-style="italic">TP53</text>
<text x="70.00" y="565.80" font-size="8.8" fill="#4caf50" textLength="18.50" lengthAdjust="spacingAndGlyphs" font-style="italic">TP53</text>
<text x="67.70" y="575.00" font-size="8.8" fill="#3a9fd8" textLength="27.70" lengthAdjust="spacingAndGlyphs" font-style="italic">PPM1D</text>
<text x="68.90" y="582.00" font-size="8.8" fill="#3a9fd8" textLength="18.40" lengthAdjust="spacingAndGlyphs" font-style="italic">TET2</text>
<text x="63.00" y="588.90" font-size="8.8" fill="#4caf50" textLength="17.40" lengthAdjust="spacingAndGlyphs" font-style="italic">TP53</text>
<text x="62.40" y="598.10" font-size="8.8" fill="#4caf50" textLength="18.00" lengthAdjust="spacingAndGlyphs" font-style="italic">TP53</text>
<text x="82.70" y="598.10" font-size="8.8" fill="#555a66" textLength="15.00" lengthAdjust="spacingAndGlyphs" font-style="italic">IRF4</text>
<text x="101.20" y="598.10" font-size="8.8" fill="#c8102e" textLength="20.80" lengthAdjust="spacingAndGlyphs" font-style="italic">NRAS</text>
<text x="103.50" y="606.20" font-size="8.8" fill="#555a66" textLength="17.30" lengthAdjust="spacingAndGlyphs" font-style="italic">MAX</text>
<text x="127.30" y="606.20" font-size="8.8" fill="#4caf50" textLength="17.70" lengthAdjust="spacingAndGlyphs" font-style="italic">TP53</text>
<line x1="59.60" y1="572.50" x2="64.50" y2="550.00" stroke="#4caf50" stroke-width="0.5"/>
<line x1="59.60" y1="572.50" x2="71.00" y2="556.50" stroke="#4caf50" stroke-width="0.5"/>
<line x1="59.60" y1="572.50" x2="71.00" y2="563.50" stroke="#4caf50" stroke-width="0.5"/>
<line x1="59.60" y1="575.00" x2="67.50" y2="573.00" stroke="#3a9fd8" stroke-width="0.5"/>
<line x1="59.60" y1="582.00" x2="68.50" y2="580.00" stroke="#3a9fd8" stroke-width="0.5"/>
<rect x="58.30" y="571.30" width="2.20" height="6.00" fill="#4caf50"/>
<rect x="58.30" y="587.00" width="2.20" height="4.50" fill="#4caf50"/>
<circle cx="59.6" cy="582.0" r="1.1" fill="#3a9fd8"/>
<circle cx="59.6" cy="589.6" r="1.2" fill="#4caf50"/>
<line x1="96.50" y1="599.80" x2="100.50" y2="607.50" stroke="#888" stroke-width="0.5"/>
<line x1="104.50" y1="599.80" x2="100.50" y2="607.50" stroke="#c8102e" stroke-width="0.5"/>
<circle cx="100.5" cy="607.6" r="1.3" fill="#c8102e"/>
<circle cx="123.0" cy="607.6" r="1.2" fill="#4caf50"/>
<line x1="239.30" y1="380.50" x2="239.30" y2="490.60" stroke="#231f20" stroke-width="1.1"/>
<line x1="238.80" y1="490.30" x2="488.50" y2="490.30" stroke="#231f20" stroke-width="1.1"/>
<line x1="235.80" y1="490.30" x2="239.30" y2="490.30" stroke="#231f20" stroke-width="0.9"/>
<text x="233.90" y="493.40" font-size="8.7" fill="#231f20" text-anchor="end">−10</text>
<line x1="235.80" y1="479.64" x2="239.30" y2="479.64" stroke="#231f20" stroke-width="0.9"/>
<text x="233.90" y="482.74" font-size="8.7" fill="#231f20" text-anchor="end">−8</text>
<line x1="235.80" y1="468.98" x2="239.30" y2="468.98" stroke="#231f20" stroke-width="0.9"/>
<text x="233.90" y="472.08" font-size="8.7" fill="#231f20" text-anchor="end">−6</text>
<line x1="235.80" y1="458.32" x2="239.30" y2="458.32" stroke="#231f20" stroke-width="0.9"/>
<text x="233.90" y="461.42" font-size="8.7" fill="#231f20" text-anchor="end">−4</text>
<line x1="235.80" y1="447.66" x2="239.30" y2="447.66" stroke="#231f20" stroke-width="0.9"/>
<text x="233.90" y="450.76" font-size="8.7" fill="#231f20" text-anchor="end">−2</text>
<line x1="235.80" y1="437.00" x2="239.30" y2="437.00" stroke="#231f20" stroke-width="0.9"/>
<text x="233.90" y="440.10" font-size="8.7" fill="#231f20" text-anchor="end">0</text>
<line x1="235.80" y1="426.34" x2="239.30" y2="426.34" stroke="#231f20" stroke-width="0.9"/>
<text x="233.90" y="429.44" font-size="8.7" fill="#231f20" text-anchor="end">2</text>
<line x1="235.80" y1="415.68" x2="239.30" y2="415.68" stroke="#231f20" stroke-width="0.9"/>
<text x="233.90" y="418.78" font-size="8.7" fill="#231f20" text-anchor="end">4</text>
<line x1="235.80" y1="405.02" x2="239.30" y2="405.02" stroke="#231f20" stroke-width="0.9"/>
<text x="233.90" y="408.12" font-size="8.7" fill="#231f20" text-anchor="end">6</text>
<line x1="235.80" y1="394.36" x2="239.30" y2="394.36" stroke="#231f20" stroke-width="0.9"/>
<text x="233.90" y="397.46" font-size="8.7" fill="#231f20" text-anchor="end">8</text>
<line x1="235.80" y1="383.70" x2="239.30" y2="383.70" stroke="#231f20" stroke-width="0.9"/>
<text x="233.90" y="386.80" font-size="8.7" fill="#231f20" text-anchor="end">10</text>
<line x1="240.00" y1="437.50" x2="488.50" y2="437.50" stroke="#333" stroke-width="0.8" stroke-dasharray="0.9,0.9"/>
<line x1="252.00" y1="490.30" x2="252.00" y2="492.80" stroke="#231f20" stroke-width="0.8"/>
<text x="255.00" y="497.80" font-size="7.9" fill="#231f20" text-anchor="end" transform="rotate(-45 255.00 497.80)">NRAS</text>
<line x1="274.30" y1="490.30" x2="274.30" y2="492.80" stroke="#231f20" stroke-width="0.8"/>
<text x="277.30" y="497.80" font-size="7.9" fill="#231f20" text-anchor="end" transform="rotate(-45 277.30 497.80)">KRAS</text>
<line x1="296.60" y1="490.30" x2="296.60" y2="492.80" stroke="#231f20" stroke-width="0.8"/>
<text x="299.60" y="497.80" font-size="7.9" fill="#231f20" text-anchor="end" transform="rotate(-45 299.60 497.80)">DIS3</text>
<line x1="318.90" y1="490.30" x2="318.90" y2="492.80" stroke="#231f20" stroke-width="0.8"/>
<text x="321.90" y="497.80" font-size="7.9" fill="#231f20" text-anchor="end" transform="rotate(-45 321.90 497.80)">BRAF</text>
<line x1="341.20" y1="490.30" x2="341.20" y2="492.80" stroke="#231f20" stroke-width="0.8"/>
<text x="344.20" y="497.80" font-size="7.9" fill="#231f20" text-anchor="end" transform="rotate(-45 344.20 497.80)">ATM</text>
<line x1="363.50" y1="490.30" x2="363.50" y2="492.80" stroke="#231f20" stroke-width="0.8"/>
<text x="366.50" y="497.80" font-size="7.9" fill="#231f20" text-anchor="end" transform="rotate(-45 366.50 497.80)">TP53</text>
<line x1="385.80" y1="490.30" x2="385.80" y2="492.80" stroke="#231f20" stroke-width="0.8"/>
<text x="388.80" y="497.80" font-size="7.9" fill="#231f20" text-anchor="end" transform="rotate(-45 388.80 497.80)">TET2</text>
<line x1="408.10" y1="490.30" x2="408.10" y2="492.80" stroke="#231f20" stroke-width="0.8"/>
<text x="411.10" y="497.80" font-size="7.9" fill="#231f20" text-anchor="end" transform="rotate(-45 411.10 497.80)">DNMT3A</text>
<line x1="430.40" y1="490.30" x2="430.40" y2="492.80" stroke="#231f20" stroke-width="0.8"/>
<text x="433.40" y="497.80" font-size="7.9" fill="#231f20" text-anchor="end" transform="rotate(-45 433.40 497.80)">PPM1D</text>
<line x1="452.70" y1="490.30" x2="452.70" y2="492.80" stroke="#231f20" stroke-width="0.8"/>
<text x="455.70" y="497.80" font-size="7.9" fill="#231f20" text-anchor="end" transform="rotate(-45 455.70 497.80)">Other</text>
<line x1="475.00" y1="490.30" x2="475.00" y2="492.80" stroke="#231f20" stroke-width="0.8"/>
<text x="478.00" y="497.80" font-size="7.9" fill="#231f20" text-anchor="end" transform="rotate(-45 478.00 497.80)">Other CH</text>
<text x="199.0" y="436.0" font-size="8.6" fill="#231f20" text-anchor="middle" transform="rotate(-90 199.0 436.0)" textLength="108.5" lengthAdjust="spacingAndGlyphs">log<tspan font-size="5.8" dy="2.0">2</tspan><tspan dy="-2.0">(mutant allele frequency in</tspan></text>
<text x="212.60" y="435.00" font-size="8.6" fill="#231f20" text-anchor="middle" textLength="76.00" lengthAdjust="spacingAndGlyphs" transform="rotate(-90 212.60 435.00)">ctDNA-seq/BMPC-seq)</text>
<text x="225.40" y="374.60" font-size="7.8" fill="#41a9de" textLength="41.20" lengthAdjust="spacingAndGlyphs">ctDNA-seq</text>
<path d="M220.5,375 L220.5,368.6 M218.6,370.6 L220.5,368.4 L222.4,370.6" stroke="#41a9de" stroke-width="0.8" fill="none"/>
<text x="225.40" y="524.00" font-size="7.8" fill="#cf0a6e" textLength="39.40" lengthAdjust="spacingAndGlyphs">BMPC-seq</text>
<path d="M220.6,517.2 L220.6,523.6 M218.7,521.6 L220.6,523.8 L222.5,521.6" stroke="#cf0a6e" stroke-width="0.8" fill="none"/>
<line x1="252.30" y1="410.80" x2="261.50" y2="410.80" stroke="#c4264a" stroke-width="1.2"/>
<text x="264.80" y="413.00" font-size="8.0" fill="#231f20" textLength="20.00" lengthAdjust="spacingAndGlyphs">Mean</text>
<path d="M279.50,320.35 L279.50,318.75 L475.00,318.75 L475.00,320.35" stroke="#3a3a3a" stroke-width="0.9" fill="none"/>
<text x="352.50" y="316.30" font-size="8.3" fill="#231f20" textLength="50.00" lengthAdjust="spacingAndGlyphs"><tspan font-style="italic">P</tspan> = 1.5×10<tspan font-size="5.48" dy="-3.4">−11</tspan></text>
<path d="M279.50,334.10 L279.50,332.50 L452.50,332.50 L452.50,334.10" stroke="#3a3a3a" stroke-width="0.9" fill="none"/>
<text x="342.50" y="330.00" font-size="8.3" fill="#231f20" textLength="47.50" lengthAdjust="spacingAndGlyphs"><tspan font-style="italic">P</tspan> = 9.3×10<tspan font-size="5.48" dy="-3.4">−5</tspan></text>
<path d="M352.00,347.85 L352.00,346.25 L452.50,346.25 L452.50,347.85" stroke="#3a3a3a" stroke-width="0.9" fill="none"/>
<text x="377.00" y="343.00" font-size="8.3" fill="#231f20" textLength="50.50" lengthAdjust="spacingAndGlyphs"><tspan font-style="italic">P</tspan> = 2.0×10<tspan font-size="5.48" dy="-3.4">−11</tspan></text>
<path d="M352.00,358.90 L352.00,357.30 L475.00,357.30 L475.00,358.90" stroke="#3a3a3a" stroke-width="0.9" fill="none"/>
<text x="401.00" y="355.00" font-size="8.3" fill="#231f20" textLength="25.00" lengthAdjust="spacingAndGlyphs"><tspan font-style="italic">P</tspan> = .12</text>
<path d="M279.50,373.60 L279.50,372.00 L408.70,372.00 L408.70,373.60" stroke="#3a3a3a" stroke-width="0.9" fill="none"/>
<text x="318.75" y="369.50" font-size="8.3" fill="#231f20" textLength="50.00" lengthAdjust="spacingAndGlyphs"><tspan font-style="italic">P</tspan> < 2.2×10<tspan font-size="5.48" dy="-3.4">−16</tspan></text>
<path d="M411.40,373.60 L411.40,372.00 L474.80,372.00 L474.80,373.60" stroke="#3a3a3a" stroke-width="0.9" fill="none"/>
<text x="431.00" y="369.00" font-size="8.3" fill="#231f20" textLength="27.60" lengthAdjust="spacingAndGlyphs"><tspan font-style="italic">P</tspan> = .94</text>
<line x1="251.70" y1="388.50" x2="475.00" y2="388.50" stroke="#3a3a3a" stroke-width="0.9"/>
<line x1="251.70" y1="388.20" x2="251.70" y2="390.20" stroke="#3a3a3a" stroke-width="0.9"/>
<line x1="278.70" y1="388.20" x2="278.70" y2="390.20" stroke="#3a3a3a" stroke-width="0.9"/>
<line x1="351.50" y1="388.20" x2="351.50" y2="390.20" stroke="#3a3a3a" stroke-width="0.9"/>
<line x1="409.80" y1="388.20" x2="409.80" y2="390.20" stroke="#3a3a3a" stroke-width="0.9"/>
<line x1="452.50" y1="388.20" x2="452.50" y2="390.20" stroke="#3a3a3a" stroke-width="0.9"/>
<line x1="475.00" y1="388.20" x2="475.00" y2="390.20" stroke="#3a3a3a" stroke-width="0.9"/>
<text x="290.00" y="383.80" font-size="8.3" fill="#231f20" textLength="50.00" lengthAdjust="spacingAndGlyphs"><tspan font-style="italic">P</tspan> < 2.2×10<tspan font-size="5.48" dy="-3.4">−16</tspan></text>
<text x="356.70" y="384.10" font-size="8.3" fill="#231f20" textLength="48.00" lengthAdjust="spacingAndGlyphs"><tspan font-style="italic">P</tspan> = 1.2×10<tspan font-size="5.48" dy="-3.4">−5</tspan></text>
<text x="412.80" y="384.10" font-size="8.3" fill="#231f20" textLength="50.70" lengthAdjust="spacingAndGlyphs"><tspan font-style="italic">P</tspan> < 2.2×10<tspan font-size="5.48" dy="-3.4">−16</tspan></text>
<text x="465.50" y="383.50" font-size="8.3" fill="#231f20" textLength="47.00" lengthAdjust="spacingAndGlyphs"><tspan font-style="italic">P</tspan> = 4.1×10<tspan font-size="5.48" dy="-3.4">−6</tspan></text>
<line x1="278.70" y1="389.30" x2="319.00" y2="389.30" stroke="#9a9a9a" stroke-width="1.0"/>
<line x1="344.00" y1="389.30" x2="356.00" y2="389.30" stroke="#9a9a9a" stroke-width="1.0"/>
<line x1="384.70" y1="389.30" x2="409.50" y2="389.30" stroke="#9a9a9a" stroke-width="1.0"/>
<line x1="413.50" y1="389.30" x2="429.00" y2="389.30" stroke="#9a9a9a" stroke-width="1.0"/>
<line x1="455.00" y1="389.30" x2="471.00" y2="389.30" stroke="#9a9a9a" stroke-width="1.0"/>
<path d="M251.00,439.30 L248.40,450.00 L244.70,467.90 L247.50,476.00 L251.20,483.40 L252.80,483.40 L256.50,476.00 L259.30,467.90 L255.60,450.00 L253.00,439.30Z" fill="none" stroke="#cf0a6e" stroke-width="0.7" stroke-linejoin="round"/>
<circle cx="252.00" cy="440.20" r="1.45" fill="#cf0a6e"/>
<circle cx="251.50" cy="482.20" r="1.45" fill="#cf0a6e"/>
<circle cx="252.87" cy="455.62" r="1.45" fill="#cf0a6e"/>
<circle cx="250.36" cy="476.23" r="1.45" fill="#cf0a6e"/>
<circle cx="248.01" cy="471.99" r="1.45" fill="#cf0a6e"/>
<circle cx="255.33" cy="460.15" r="1.45" fill="#cf0a6e"/>
<circle cx="250.38" cy="458.53" r="1.45" fill="#cf0a6e"/>
<circle cx="250.60" cy="461.67" r="1.45" fill="#cf0a6e"/>
<circle cx="256.38" cy="465.10" r="1.45" fill="#cf0a6e"/>
<circle cx="255.91" cy="469.38" r="1.45" fill="#cf0a6e"/>
<circle cx="248.95" cy="464.40" r="1.45" fill="#cf0a6e"/>
<circle cx="251.86" cy="478.84" r="1.45" fill="#cf0a6e"/>
<circle cx="254.14" cy="449.78" r="1.45" fill="#cf0a6e"/>
<circle cx="247.28" cy="462.28" r="1.45" fill="#cf0a6e"/>
<circle cx="246.99" cy="466.46" r="1.45" fill="#cf0a6e"/>
<circle cx="254.08" cy="466.97" r="1.45" fill="#cf0a6e"/>
<circle cx="250.88" cy="453.41" r="1.45" fill="#cf0a6e"/>
<circle cx="252.45" cy="446.77" r="1.45" fill="#cf0a6e"/>
<circle cx="254.19" cy="474.90" r="1.45" fill="#cf0a6e"/>
<circle cx="250.34" cy="467.83" r="1.45" fill="#cf0a6e"/>
<circle cx="250.84" cy="472.53" r="1.45" fill="#cf0a6e"/>
<circle cx="253.71" cy="472.26" r="1.45" fill="#cf0a6e"/>
<circle cx="252.41" cy="443.09" r="1.45" fill="#cf0a6e"/>
<circle cx="255.44" cy="456.79" r="1.45" fill="#cf0a6e"/>
<circle cx="250.42" cy="449.91" r="1.45" fill="#cf0a6e"/>
<circle cx="254.28" cy="463.08" r="1.45" fill="#cf0a6e"/>
<line x1="242.20" y1="462.30" x2="261.80" y2="462.30" stroke="#c4264a" stroke-width="1.1"/>
<path d="M270.90,435.80 L268.80,440.00 L265.90,448.00 L265.70,462.00 L266.70,472.00 L268.30,477.40 L280.30,477.40 L281.90,472.00 L282.90,462.00 L282.70,448.00 L279.80,440.00 L277.70,435.80Z" fill="none" stroke="#cf0a6e" stroke-width="0.7" stroke-linejoin="round"/>
<circle cx="278.60" cy="461.71" r="1.45" fill="#cf0a6e"/>
<circle cx="278.86" cy="475.01" r="1.45" fill="#cf0a6e"/>
<circle cx="272.08" cy="440.51" r="1.45" fill="#cf0a6e"/>
<circle cx="267.25" cy="458.42" r="1.45" fill="#cf0a6e"/>
<circle cx="279.25" cy="444.82" r="1.45" fill="#cf0a6e"/>
<circle cx="278.30" cy="467.65" r="1.45" fill="#cf0a6e"/>
<circle cx="280.08" cy="472.09" r="1.45" fill="#cf0a6e"/>
<circle cx="270.02" cy="458.23" r="1.45" fill="#cf0a6e"/>
<circle cx="272.63" cy="472.98" r="1.45" fill="#cf0a6e"/>
<circle cx="269.80" cy="442.70" r="1.45" fill="#cf0a6e"/>
<circle cx="267.25" cy="448.34" r="1.45" fill="#cf0a6e"/>
<circle cx="271.60" cy="464.00" r="1.45" fill="#cf0a6e"/>
<circle cx="271.90" cy="469.85" r="1.45" fill="#cf0a6e"/>
<circle cx="267.91" cy="455.82" r="1.45" fill="#cf0a6e"/>
<circle cx="267.29" cy="451.03" r="1.45" fill="#cf0a6e"/>
<circle cx="277.09" cy="437.74" r="1.45" fill="#cf0a6e"/>
<circle cx="275.18" cy="439.59" r="1.45" fill="#cf0a6e"/>
<circle cx="273.66" cy="460.51" r="1.45" fill="#cf0a6e"/>
<circle cx="280.27" cy="453.35" r="1.45" fill="#cf0a6e"/>
<circle cx="277.28" cy="470.68" r="1.45" fill="#cf0a6e"/>
<circle cx="274.18" cy="476.40" r="1.45" fill="#cf0a6e"/>
<circle cx="272.54" cy="452.60" r="1.45" fill="#cf0a6e"/>
<circle cx="278.03" cy="447.48" r="1.45" fill="#cf0a6e"/>
<circle cx="280.57" cy="464.54" r="1.45" fill="#cf0a6e"/>
<circle cx="267.25" cy="462.83" r="1.45" fill="#cf0a6e"/>
<circle cx="276.79" cy="458.55" r="1.45" fill="#cf0a6e"/>
<circle cx="276.42" cy="455.06" r="1.45" fill="#cf0a6e"/>
<circle cx="272.25" cy="466.49" r="1.45" fill="#cf0a6e"/>
<circle cx="269.60" cy="465.77" r="1.45" fill="#cf0a6e"/>
<circle cx="270.26" cy="454.15" r="1.45" fill="#cf0a6e"/>
<circle cx="273.91" cy="443.84" r="1.45" fill="#cf0a6e"/>
<circle cx="275.59" cy="451.62" r="1.45" fill="#cf0a6e"/>
<circle cx="268.31" cy="470.38" r="1.45" fill="#cf0a6e"/>
<circle cx="280.83" cy="449.92" r="1.45" fill="#cf0a6e"/>
<circle cx="280.95" cy="460.59" r="1.45" fill="#cf0a6e"/>
<circle cx="269.59" cy="472.97" r="1.45" fill="#cf0a6e"/>
<circle cx="273.97" cy="456.26" r="1.45" fill="#cf0a6e"/>
<circle cx="269.90" cy="446.02" r="1.45" fill="#cf0a6e"/>
<circle cx="271.97" cy="448.31" r="1.45" fill="#cf0a6e"/>
<circle cx="274.05" cy="437.32" r="1.45" fill="#cf0a6e"/>
<circle cx="275.56" cy="473.99" r="1.45" fill="#cf0a6e"/>
<circle cx="271.37" cy="475.40" r="1.45" fill="#cf0a6e"/>
<circle cx="270.44" cy="461.79" r="1.45" fill="#cf0a6e"/>
<circle cx="271.41" cy="438.04" r="1.45" fill="#cf0a6e"/>
<line x1="264.50" y1="458.90" x2="284.10" y2="458.90" stroke="#c4264a" stroke-width="1.1"/>
<path d="M295.80,409.90 L295.50,420.00 L294.80,440.00 L293.60,450.00 L291.10,460.00 L289.20,468.00 L290.10,475.00 L294.10,480.00 L299.10,480.00 L303.10,475.00 L304.00,468.00 L302.10,460.00 L299.60,450.00 L298.40,440.00 L297.70,420.00 L297.40,409.90Z" fill="none" stroke="#cf0a6e" stroke-width="0.7" stroke-linejoin="round"/>
<circle cx="296.60" cy="410.40" r="1.45" fill="#cf0a6e"/>
<circle cx="296.60" cy="430.50" r="1.45" fill="#cf0a6e"/>
<circle cx="296.20" cy="439.00" r="1.45" fill="#cf0a6e"/>
<circle cx="297.00" cy="436.20" r="1.45" fill="#cf0a6e"/>
<circle cx="292.71" cy="473.09" r="1.45" fill="#cf0a6e"/>
<circle cx="299.59" cy="471.45" r="1.45" fill="#cf0a6e"/>
<circle cx="292.99" cy="469.03" r="1.45" fill="#cf0a6e"/>
<circle cx="297.54" cy="445.64" r="1.45" fill="#cf0a6e"/>
<circle cx="295.45" cy="472.39" r="1.45" fill="#cf0a6e"/>
<circle cx="297.99" cy="478.24" r="1.45" fill="#cf0a6e"/>
<circle cx="293.29" cy="463.48" r="1.45" fill="#cf0a6e"/>
<circle cx="298.99" cy="466.52" r="1.45" fill="#cf0a6e"/>
<circle cx="294.37" cy="478.60" r="1.45" fill="#cf0a6e"/>
<circle cx="298.32" cy="450.56" r="1.45" fill="#cf0a6e"/>
<circle cx="295.71" cy="460.06" r="1.45" fill="#cf0a6e"/>
<circle cx="297.28" cy="455.27" r="1.45" fill="#cf0a6e"/>
<circle cx="301.20" cy="473.61" r="1.45" fill="#cf0a6e"/>
<circle cx="294.07" cy="466.28" r="1.45" fill="#cf0a6e"/>
<circle cx="299.57" cy="462.29" r="1.45" fill="#cf0a6e"/>
<circle cx="297.72" cy="474.76" r="1.45" fill="#cf0a6e"/>
<circle cx="300.91" cy="468.88" r="1.45" fill="#cf0a6e"/>
<line x1="286.80" y1="458.30" x2="306.40" y2="458.30" stroke="#c4264a" stroke-width="1.1"/>
<path d="M318.10,396.00 L317.70,410.00 L316.90,440.00 L315.70,452.00 L311.40,464.00 L311.90,472.00 L316.40,478.20 L321.40,478.20 L325.90,472.00 L326.40,464.00 L322.10,452.00 L320.90,440.00 L320.10,410.00 L319.70,396.00Z" fill="none" stroke="#cf0a6e" stroke-width="0.7" stroke-linejoin="round"/>
<circle cx="318.90" cy="396.60" r="1.45" fill="#cf0a6e"/>
<circle cx="318.40" cy="409.50" r="1.45" fill="#cf0a6e"/>
<circle cx="319.40" cy="412.00" r="1.45" fill="#cf0a6e"/>
<circle cx="319.10" cy="431.00" r="1.45" fill="#cf0a6e"/>
<circle cx="318.60" cy="440.00" r="1.45" fill="#cf0a6e"/>
<circle cx="318.99" cy="471.97" r="1.45" fill="#cf0a6e"/>
<circle cx="316.86" cy="461.18" r="1.45" fill="#cf0a6e"/>
<circle cx="321.07" cy="453.00" r="1.45" fill="#cf0a6e"/>
<circle cx="318.90" cy="415.89" r="1.45" fill="#cf0a6e"/>
<circle cx="320.62" cy="465.25" r="1.45" fill="#cf0a6e"/>
<circle cx="316.64" cy="465.07" r="1.45" fill="#cf0a6e"/>
<circle cx="324.44" cy="470.82" r="1.45" fill="#cf0a6e"/>
<circle cx="316.79" cy="458.31" r="1.45" fill="#cf0a6e"/>
<circle cx="319.53" cy="461.52" r="1.45" fill="#cf0a6e"/>
<circle cx="319.87" cy="456.16" r="1.45" fill="#cf0a6e"/>
<circle cx="314.06" cy="466.23" r="1.45" fill="#cf0a6e"/>
<circle cx="316.01" cy="470.67" r="1.45" fill="#cf0a6e"/>
<circle cx="323.18" cy="473.30" r="1.45" fill="#cf0a6e"/>
<circle cx="317.97" cy="468.52" r="1.45" fill="#cf0a6e"/>
<circle cx="320.30" cy="475.13" r="1.45" fill="#cf0a6e"/>
<line x1="309.10" y1="449.30" x2="328.70" y2="449.30" stroke="#c4264a" stroke-width="1.1"/>
<path d="M339.20,407.50 L339.20,416.00 L338.20,424.00 L333.40,434.30 L335.70,440.00 L337.70,444.70 L337.00,455.00 L339.00,462.90 L343.40,462.90 L345.40,455.00 L344.70,444.70 L346.70,440.00 L349.00,434.30 L344.20,424.00 L343.20,416.00 L343.20,407.50Z" fill="none" stroke="#3aaa35" stroke-width="0.7" stroke-linejoin="round"/>
<circle cx="341.20" cy="408.00" r="1.45" fill="#3aaa35"/>
<circle cx="340.55" cy="417.79" r="1.45" fill="#3aaa35"/>
<circle cx="342.02" cy="434.47" r="1.45" fill="#3aaa35"/>
<circle cx="340.48" cy="431.30" r="1.45" fill="#3aaa35"/>
<circle cx="342.55" cy="424.88" r="1.45" fill="#3aaa35"/>
<circle cx="342.08" cy="448.96" r="1.45" fill="#3aaa35"/>
<circle cx="338.43" cy="441.04" r="1.45" fill="#3aaa35"/>
<circle cx="337.85" cy="434.69" r="1.45" fill="#3aaa35"/>
<circle cx="343.10" cy="452.00" r="1.45" fill="#3aaa35"/>
<circle cx="340.60" cy="413.72" r="1.45" fill="#3aaa35"/>
<circle cx="340.58" cy="437.60" r="1.45" fill="#3aaa35"/>
<circle cx="338.35" cy="426.51" r="1.45" fill="#3aaa35"/>
<circle cx="340.83" cy="462.78" r="1.45" fill="#3aaa35"/>
<line x1="331.40" y1="439.50" x2="351.00" y2="439.50" stroke="#c4264a" stroke-width="1.1"/>
<path d="M362.70,403.20 L362.00,408.00 L358.50,413.60 L354.70,424.00 L355.50,434.00 L358.50,441.30 L360.50,446.00 L360.30,450.00 L359.90,462.00 L360.50,472.40 L362.30,476.00 L362.70,478.40 L364.30,478.40 L364.70,476.00 L366.50,472.40 L367.10,462.00 L366.70,450.00 L366.50,446.00 L368.50,441.30 L371.50,434.00 L372.30,424.00 L368.50,413.60 L365.00,408.00 L364.30,403.20Z" fill="none" stroke="#3aaa35" stroke-width="0.7" stroke-linejoin="round"/>
<circle cx="363.50" cy="403.80" r="1.45" fill="#3aaa35"/>
<circle cx="363.50" cy="477.80" r="1.45" fill="#3aaa35"/>
<circle cx="362.90" cy="408.50" r="1.45" fill="#3aaa35"/>
<circle cx="364.50" cy="446.50" r="1.45" fill="#3aaa35"/>
<circle cx="362.50" cy="449.00" r="1.45" fill="#3aaa35"/>
<circle cx="364.70" cy="452.50" r="1.45" fill="#3aaa35"/>
<circle cx="362.50" cy="456.00" r="1.45" fill="#3aaa35"/>
<circle cx="364.30" cy="459.50" r="1.45" fill="#3aaa35"/>
<circle cx="362.30" cy="463.00" r="1.45" fill="#3aaa35"/>
<circle cx="364.50" cy="466.50" r="1.45" fill="#3aaa35"/>
<circle cx="362.90" cy="470.00" r="1.45" fill="#3aaa35"/>
<circle cx="364.00" cy="473.50" r="1.45" fill="#3aaa35"/>
<circle cx="370.05" cy="428.79" r="1.45" fill="#3aaa35"/>
<circle cx="366.03" cy="420.43" r="1.45" fill="#3aaa35"/>
<circle cx="357.15" cy="433.81" r="1.45" fill="#3aaa35"/>
<circle cx="359.82" cy="423.83" r="1.45" fill="#3aaa35"/>
<circle cx="366.03" cy="444.03" r="1.45" fill="#3aaa35"/>
<circle cx="364.98" cy="441.51" r="1.45" fill="#3aaa35"/>
<circle cx="367.43" cy="417.56" r="1.45" fill="#3aaa35"/>
<circle cx="368.88" cy="423.49" r="1.45" fill="#3aaa35"/>
<circle cx="360.20" cy="428.97" r="1.45" fill="#3aaa35"/>
<circle cx="364.52" cy="438.31" r="1.45" fill="#3aaa35"/>
<circle cx="358.30" cy="430.00" r="1.45" fill="#3aaa35"/>
<circle cx="368.88" cy="421.48" r="1.45" fill="#3aaa35"/>
<circle cx="366.47" cy="434.70" r="1.45" fill="#3aaa35"/>
<circle cx="360.99" cy="415.43" r="1.45" fill="#3aaa35"/>
<circle cx="357.32" cy="424.53" r="1.45" fill="#3aaa35"/>
<circle cx="363.94" cy="432.91" r="1.45" fill="#3aaa35"/>
<circle cx="361.10" cy="419.55" r="1.45" fill="#3aaa35"/>
<circle cx="362.25" cy="436.10" r="1.45" fill="#3aaa35"/>
<circle cx="363.73" cy="427.51" r="1.45" fill="#3aaa35"/>
<circle cx="367.19" cy="426.02" r="1.45" fill="#3aaa35"/>
<circle cx="367.01" cy="423.11" r="1.45" fill="#3aaa35"/>
<circle cx="368.99" cy="430.44" r="1.45" fill="#3aaa35"/>
<circle cx="363.68" cy="417.60" r="1.45" fill="#3aaa35"/>
<circle cx="364.08" cy="425.41" r="1.45" fill="#3aaa35"/>
<circle cx="359.61" cy="434.51" r="1.45" fill="#3aaa35"/>
<circle cx="361.47" cy="438.34" r="1.45" fill="#3aaa35"/>
<circle cx="361.86" cy="425.69" r="1.45" fill="#3aaa35"/>
<circle cx="363.99" cy="430.13" r="1.45" fill="#3aaa35"/>
<circle cx="364.05" cy="444.44" r="1.45" fill="#3aaa35"/>
<circle cx="366.70" cy="437.29" r="1.45" fill="#3aaa35"/>
<circle cx="365.13" cy="412.62" r="1.45" fill="#3aaa35"/>
<circle cx="366.21" cy="415.17" r="1.45" fill="#3aaa35"/>
<circle cx="358.80" cy="417.32" r="1.45" fill="#3aaa35"/>
<circle cx="365.94" cy="430.48" r="1.45" fill="#3aaa35"/>
<circle cx="361.33" cy="444.54" r="1.45" fill="#3aaa35"/>
<circle cx="359.97" cy="427.00" r="1.45" fill="#3aaa35"/>
<circle cx="363.23" cy="411.30" r="1.45" fill="#3aaa35"/>
<circle cx="363.34" cy="413.87" r="1.45" fill="#3aaa35"/>
<circle cx="363.41" cy="421.85" r="1.45" fill="#3aaa35"/>
<circle cx="360.13" cy="436.75" r="1.45" fill="#3aaa35"/>
<circle cx="357.96" cy="421.91" r="1.45" fill="#3aaa35"/>
<circle cx="362.23" cy="441.54" r="1.45" fill="#3aaa35"/>
<circle cx="362.00" cy="423.77" r="1.45" fill="#3aaa35"/>
<circle cx="367.85" cy="428.30" r="1.45" fill="#3aaa35"/>
<circle cx="363.67" cy="419.64" r="1.45" fill="#3aaa35"/>
<circle cx="361.28" cy="433.53" r="1.45" fill="#3aaa35"/>
<circle cx="359.63" cy="432.50" r="1.45" fill="#3aaa35"/>
<circle cx="370.26" cy="425.88" r="1.45" fill="#3aaa35"/>
<circle cx="368.83" cy="433.35" r="1.45" fill="#3aaa35"/>
<circle cx="361.68" cy="430.84" r="1.45" fill="#3aaa35"/>
<circle cx="358.24" cy="419.77" r="1.45" fill="#3aaa35"/>
<circle cx="367.71" cy="439.07" r="1.45" fill="#3aaa35"/>
<circle cx="357.56" cy="426.57" r="1.45" fill="#3aaa35"/>
<circle cx="369.05" cy="436.36" r="1.45" fill="#3aaa35"/>
<circle cx="369.13" cy="418.98" r="1.45" fill="#3aaa35"/>
<circle cx="361.29" cy="411.33" r="1.45" fill="#3aaa35"/>
<circle cx="364.40" cy="434.80" r="1.45" fill="#3aaa35"/>
<circle cx="367.06" cy="441.44" r="1.45" fill="#3aaa35"/>
<circle cx="356.64" cy="431.21" r="1.45" fill="#3aaa35"/>
<circle cx="359.91" cy="441.39" r="1.45" fill="#3aaa35"/>
<circle cx="356.88" cy="428.59" r="1.45" fill="#3aaa35"/>
<circle cx="367.35" cy="432.15" r="1.45" fill="#3aaa35"/>
<circle cx="359.46" cy="439.47" r="1.45" fill="#3aaa35"/>
<circle cx="361.18" cy="413.23" r="1.45" fill="#3aaa35"/>
<circle cx="361.27" cy="421.55" r="1.45" fill="#3aaa35"/>
<circle cx="361.34" cy="417.30" r="1.45" fill="#3aaa35"/>
<circle cx="365.05" cy="410.34" r="1.45" fill="#3aaa35"/>
<circle cx="365.62" cy="428.00" r="1.45" fill="#3aaa35"/>
<circle cx="364.26" cy="415.76" r="1.45" fill="#3aaa35"/>
<circle cx="357.92" cy="436.01" r="1.45" fill="#3aaa35"/>
<line x1="353.70" y1="434.30" x2="373.30" y2="434.30" stroke="#c4264a" stroke-width="1.1"/>
<path d="M384.30,409.20 L381.80,414.00 L378.00,425.70 L381.80,439.50 L384.60,443.80 L385.00,450.00 L385.00,466.00 L385.00,468.00 L386.60,468.00 L386.60,466.00 L386.60,450.00 L387.00,443.80 L389.80,439.50 L393.60,425.70 L389.80,414.00 L387.30,409.20Z" fill="none" stroke="#1d3f74" stroke-width="0.7" stroke-linejoin="round"/>
<circle cx="385.80" cy="464.00" r="1.45" fill="#1d3f74"/>
<circle cx="385.80" cy="467.40" r="1.45" fill="#1d3f74"/>
<circle cx="384.53" cy="427.70" r="1.45" fill="#1d3f74"/>
<circle cx="384.35" cy="415.04" r="1.45" fill="#1d3f74"/>
<circle cx="381.87" cy="421.13" r="1.45" fill="#1d3f74"/>
<circle cx="386.49" cy="421.07" r="1.45" fill="#1d3f74"/>
<circle cx="388.48" cy="428.44" r="1.45" fill="#1d3f74"/>
<circle cx="383.16" cy="437.30" r="1.45" fill="#1d3f74"/>
<circle cx="383.48" cy="423.47" r="1.45" fill="#1d3f74"/>
<circle cx="387.64" cy="417.92" r="1.45" fill="#1d3f74"/>
<circle cx="387.83" cy="431.29" r="1.45" fill="#1d3f74"/>
<circle cx="384.79" cy="418.33" r="1.45" fill="#1d3f74"/>
<circle cx="379.91" cy="427.20" r="1.45" fill="#1d3f74"/>
<circle cx="384.67" cy="431.55" r="1.45" fill="#1d3f74"/>
<circle cx="388.47" cy="415.25" r="1.45" fill="#1d3f74"/>
<circle cx="389.54" cy="422.56" r="1.45" fill="#1d3f74"/>
<circle cx="385.80" cy="443.01" r="1.45" fill="#1d3f74"/>
<circle cx="381.77" cy="429.83" r="1.45" fill="#1d3f74"/>
<circle cx="391.10" cy="427.70" r="1.45" fill="#1d3f74"/>
<circle cx="387.97" cy="424.92" r="1.45" fill="#1d3f74"/>
<circle cx="380.88" cy="424.39" r="1.45" fill="#1d3f74"/>
<circle cx="386.16" cy="410.88" r="1.45" fill="#1d3f74"/>
<circle cx="390.03" cy="433.40" r="1.45" fill="#1d3f74"/>
<circle cx="390.00" cy="419.56" r="1.45" fill="#1d3f74"/>
<circle cx="386.47" cy="436.64" r="1.45" fill="#1d3f74"/>
<circle cx="387.59" cy="440.52" r="1.45" fill="#1d3f74"/>
<circle cx="383.48" cy="434.14" r="1.45" fill="#1d3f74"/>
<circle cx="384.93" cy="440.01" r="1.45" fill="#1d3f74"/>
<circle cx="391.73" cy="424.11" r="1.45" fill="#1d3f74"/>
<circle cx="381.28" cy="432.60" r="1.45" fill="#1d3f74"/>
<circle cx="387.17" cy="433.98" r="1.45" fill="#1d3f74"/>
<circle cx="390.80" cy="430.58" r="1.45" fill="#1d3f74"/>
<line x1="376.00" y1="428.30" x2="395.60" y2="428.30" stroke="#c4264a" stroke-width="1.1"/>
<path d="M399.60,415.30 L398.90,420.00 L399.50,428.00 L403.10,436.00 L406.60,442.00 L407.30,444.00 L407.30,456.00 L408.90,456.00 L408.90,444.00 L409.60,442.00 L413.10,436.00 L416.70,428.00 L417.30,420.00 L416.60,415.30Z" fill="none" stroke="#1d3f74" stroke-width="0.7" stroke-linejoin="round"/>
<circle cx="408.10" cy="448.50" r="1.45" fill="#1d3f74"/>
<circle cx="408.10" cy="455.50" r="1.45" fill="#1d3f74"/>
<circle cx="408.64" cy="437.31" r="1.45" fill="#1d3f74"/>
<circle cx="402.57" cy="425.59" r="1.45" fill="#1d3f74"/>
<circle cx="403.71" cy="419.80" r="1.45" fill="#1d3f74"/>
<circle cx="408.23" cy="432.75" r="1.45" fill="#1d3f74"/>
<circle cx="403.78" cy="433.36" r="1.45" fill="#1d3f74"/>
<circle cx="406.11" cy="424.07" r="1.45" fill="#1d3f74"/>
<circle cx="405.61" cy="429.30" r="1.45" fill="#1d3f74"/>
<circle cx="411.36" cy="417.14" r="1.45" fill="#1d3f74"/>
<circle cx="409.95" cy="429.77" r="1.45" fill="#1d3f74"/>
<circle cx="401.09" cy="416.40" r="1.45" fill="#1d3f74"/>
<circle cx="414.51" cy="426.65" r="1.45" fill="#1d3f74"/>
<circle cx="408.96" cy="425.24" r="1.45" fill="#1d3f74"/>
<circle cx="402.65" cy="428.75" r="1.45" fill="#1d3f74"/>
<circle cx="411.48" cy="435.88" r="1.45" fill="#1d3f74"/>
<circle cx="407.64" cy="420.88" r="1.45" fill="#1d3f74"/>
<circle cx="407.80" cy="417.04" r="1.45" fill="#1d3f74"/>
<circle cx="415.10" cy="423.73" r="1.45" fill="#1d3f74"/>
<circle cx="413.64" cy="420.43" r="1.45" fill="#1d3f74"/>
<circle cx="404.82" cy="416.07" r="1.45" fill="#1d3f74"/>
<circle cx="411.82" cy="424.05" r="1.45" fill="#1d3f74"/>
<circle cx="400.73" cy="422.38" r="1.45" fill="#1d3f74"/>
<circle cx="412.85" cy="431.68" r="1.45" fill="#1d3f74"/>
<circle cx="410.66" cy="420.43" r="1.45" fill="#1d3f74"/>
<circle cx="415.26" cy="415.96" r="1.45" fill="#1d3f74"/>
<circle cx="405.34" cy="436.17" r="1.45" fill="#1d3f74"/>
<circle cx="412.77" cy="428.72" r="1.45" fill="#1d3f74"/>
<circle cx="406.59" cy="439.68" r="1.45" fill="#1d3f74"/>
<circle cx="400.75" cy="419.16" r="1.45" fill="#1d3f74"/>
<circle cx="403.48" cy="422.66" r="1.45" fill="#1d3f74"/>
<circle cx="409.52" cy="439.88" r="1.45" fill="#1d3f74"/>
<circle cx="415.75" cy="418.68" r="1.45" fill="#1d3f74"/>
<circle cx="405.19" cy="426.63" r="1.45" fill="#1d3f74"/>
<circle cx="408.04" cy="427.83" r="1.45" fill="#1d3f74"/>
<line x1="398.30" y1="425.70" x2="417.90" y2="425.70" stroke="#c4264a" stroke-width="1.1"/>
<path d="M426.40,412.50 L420.40,424.20 L427.40,437.00 L433.40,437.00 L440.40,424.20 L434.40,412.50Z" fill="none" stroke="#1d3f74" stroke-width="0.7" stroke-linejoin="round"/>
<circle cx="435.74" cy="425.93" r="1.45" fill="#1d3f74"/>
<circle cx="428.43" cy="419.57" r="1.45" fill="#1d3f74"/>
<circle cx="428.20" cy="415.04" r="1.45" fill="#1d3f74"/>
<circle cx="426.90" cy="430.40" r="1.45" fill="#1d3f74"/>
<circle cx="435.17" cy="423.13" r="1.45" fill="#1d3f74"/>
<circle cx="433.03" cy="426.28" r="1.45" fill="#1d3f74"/>
<circle cx="430.65" cy="422.56" r="1.45" fill="#1d3f74"/>
<circle cx="428.92" cy="426.88" r="1.45" fill="#1d3f74"/>
<circle cx="424.94" cy="427.64" r="1.45" fill="#1d3f74"/>
<circle cx="428.57" cy="435.47" r="1.45" fill="#1d3f74"/>
<circle cx="435.38" cy="417.53" r="1.45" fill="#1d3f74"/>
<circle cx="430.11" cy="412.70" r="1.45" fill="#1d3f74"/>
<circle cx="423.90" cy="424.75" r="1.45" fill="#1d3f74"/>
<circle cx="431.34" cy="433.71" r="1.45" fill="#1d3f74"/>
<circle cx="434.18" cy="420.21" r="1.45" fill="#1d3f74"/>
<circle cx="438.99" cy="424.04" r="1.45" fill="#1d3f74"/>
<line x1="421.40" y1="424.20" x2="439.40" y2="424.20" stroke="#c4264a" stroke-width="1.1"/>
<circle cx="452.70" cy="409.60" r="1.65" fill="#3e4a5b"/>
<circle cx="452.70" cy="483.40" r="1.65" fill="#3e4a5b"/>
<circle cx="448.23" cy="438.16" r="1.65" fill="#3e4a5b"/>
<circle cx="454.30" cy="416.99" r="1.65" fill="#3e4a5b"/>
<circle cx="453.25" cy="458.49" r="1.65" fill="#3e4a5b"/>
<circle cx="457.32" cy="442.31" r="1.65" fill="#3e4a5b"/>
<circle cx="450.70" cy="438.92" r="1.65" fill="#3e4a5b"/>
<circle cx="452.84" cy="424.38" r="1.65" fill="#3e4a5b"/>
<circle cx="448.95" cy="471.82" r="1.65" fill="#3e4a5b"/>
<circle cx="449.65" cy="474.06" r="1.65" fill="#3e4a5b"/>
<circle cx="448.09" cy="468.64" r="1.65" fill="#3e4a5b"/>
<circle cx="445.84" cy="456.89" r="1.65" fill="#3e4a5b"/>
<circle cx="451.43" cy="433.87" r="1.65" fill="#3e4a5b"/>
<circle cx="459.69" cy="457.33" r="1.65" fill="#3e4a5b"/>
<circle cx="455.21" cy="455.59" r="1.65" fill="#3e4a5b"/>
<circle cx="447.16" cy="453.90" r="1.65" fill="#3e4a5b"/>
<circle cx="457.04" cy="468.94" r="1.65" fill="#3e4a5b"/>
<circle cx="447.72" cy="450.91" r="1.65" fill="#3e4a5b"/>
<circle cx="452.33" cy="462.37" r="1.65" fill="#3e4a5b"/>
<circle cx="453.26" cy="429.49" r="1.65" fill="#3e4a5b"/>
<circle cx="456.80" cy="460.82" r="1.65" fill="#3e4a5b"/>
<circle cx="450.11" cy="429.83" r="1.65" fill="#3e4a5b"/>
<circle cx="455.28" cy="438.81" r="1.65" fill="#3e4a5b"/>
<circle cx="449.61" cy="443.75" r="1.65" fill="#3e4a5b"/>
<circle cx="459.38" cy="467.63" r="1.65" fill="#3e4a5b"/>
<circle cx="447.58" cy="460.60" r="1.65" fill="#3e4a5b"/>
<circle cx="451.82" cy="472.91" r="1.65" fill="#3e4a5b"/>
<circle cx="451.52" cy="419.12" r="1.65" fill="#3e4a5b"/>
<circle cx="453.14" cy="440.63" r="1.65" fill="#3e4a5b"/>
<circle cx="445.60" cy="464.00" r="1.65" fill="#3e4a5b"/>
<circle cx="449.30" cy="454.91" r="1.65" fill="#3e4a5b"/>
<circle cx="457.13" cy="435.97" r="1.65" fill="#3e4a5b"/>
<circle cx="452.70" cy="455.68" r="1.65" fill="#3e4a5b"/>
<circle cx="451.46" cy="479.12" r="1.65" fill="#3e4a5b"/>
<circle cx="456.30" cy="452.24" r="1.65" fill="#3e4a5b"/>
<circle cx="454.41" cy="431.80" r="1.65" fill="#3e4a5b"/>
<circle cx="451.61" cy="450.35" r="1.65" fill="#3e4a5b"/>
<circle cx="455.51" cy="470.67" r="1.65" fill="#3e4a5b"/>
<circle cx="460.12" cy="460.15" r="1.65" fill="#3e4a5b"/>
<circle cx="451.17" cy="441.75" r="1.65" fill="#3e4a5b"/>
<circle cx="454.52" cy="476.92" r="1.65" fill="#3e4a5b"/>
<circle cx="448.57" cy="441.12" r="1.65" fill="#3e4a5b"/>
<circle cx="452.49" cy="468.89" r="1.65" fill="#3e4a5b"/>
<circle cx="453.38" cy="466.41" r="1.65" fill="#3e4a5b"/>
<circle cx="455.32" cy="444.33" r="1.65" fill="#3e4a5b"/>
<circle cx="455.09" cy="473.24" r="1.65" fill="#3e4a5b"/>
<circle cx="450.36" cy="464.22" r="1.65" fill="#3e4a5b"/>
<circle cx="451.62" cy="414.03" r="1.65" fill="#3e4a5b"/>
<circle cx="453.94" cy="412.42" r="1.65" fill="#3e4a5b"/>
<circle cx="456.87" cy="433.07" r="1.65" fill="#3e4a5b"/>
<circle cx="450.30" cy="458.33" r="1.65" fill="#3e4a5b"/>
<circle cx="454.73" cy="436.11" r="1.65" fill="#3e4a5b"/>
<circle cx="458.38" cy="438.08" r="1.65" fill="#3e4a5b"/>
<circle cx="457.98" cy="454.26" r="1.65" fill="#3e4a5b"/>
<circle cx="450.02" cy="417.46" r="1.65" fill="#3e4a5b"/>
<circle cx="452.42" cy="475.21" r="1.65" fill="#3e4a5b"/>
<circle cx="454.01" cy="460.66" r="1.65" fill="#3e4a5b"/>
<circle cx="456.72" cy="463.87" r="1.65" fill="#3e4a5b"/>
<circle cx="458.29" cy="471.09" r="1.65" fill="#3e4a5b"/>
<circle cx="449.54" cy="447.08" r="1.65" fill="#3e4a5b"/>
<circle cx="448.17" cy="457.01" r="1.65" fill="#3e4a5b"/>
<circle cx="453.90" cy="450.05" r="1.65" fill="#3e4a5b"/>
<circle cx="452.65" cy="444.61" r="1.65" fill="#3e4a5b"/>
<circle cx="458.25" cy="448.73" r="1.65" fill="#3e4a5b"/>
<circle cx="455.66" cy="418.98" r="1.65" fill="#3e4a5b"/>
<circle cx="447.19" cy="466.06" r="1.65" fill="#3e4a5b"/>
<circle cx="459.35" cy="434.92" r="1.65" fill="#3e4a5b"/>
<circle cx="448.24" cy="435.41" r="1.65" fill="#3e4a5b"/>
<circle cx="455.65" cy="448.67" r="1.65" fill="#3e4a5b"/>
<circle cx="445.39" cy="468.94" r="1.65" fill="#3e4a5b"/>
<circle cx="449.14" cy="431.85" r="1.65" fill="#3e4a5b"/>
<circle cx="448.10" cy="463.71" r="1.65" fill="#3e4a5b"/>
<circle cx="453.91" cy="452.78" r="1.65" fill="#3e4a5b"/>
<circle cx="452.04" cy="436.98" r="1.65" fill="#3e4a5b"/>
<circle cx="449.07" cy="476.68" r="1.65" fill="#3e4a5b"/>
<circle cx="454.10" cy="422.41" r="1.65" fill="#3e4a5b"/>
<circle cx="445.05" cy="461.28" r="1.65" fill="#3e4a5b"/>
<circle cx="451.96" cy="427.70" r="1.65" fill="#3e4a5b"/>
<circle cx="452.26" cy="481.22" r="1.65" fill="#3e4a5b"/>
<circle cx="446.66" cy="433.80" r="1.65" fill="#3e4a5b"/>
<circle cx="453.64" cy="419.96" r="1.65" fill="#3e4a5b"/>
<circle cx="450.95" cy="421.83" r="1.65" fill="#3e4a5b"/>
<circle cx="451.33" cy="452.83" r="1.65" fill="#3e4a5b"/>
<circle cx="447.03" cy="473.07" r="1.65" fill="#3e4a5b"/>
<circle cx="457.45" cy="446.32" r="1.65" fill="#3e4a5b"/>
<circle cx="452.79" cy="447.09" r="1.65" fill="#3e4a5b"/>
<circle cx="457.32" cy="457.08" r="1.65" fill="#3e4a5b"/>
<circle cx="457.05" cy="474.59" r="1.65" fill="#3e4a5b"/>
<circle cx="457.58" cy="466.00" r="1.65" fill="#3e4a5b"/>
<circle cx="459.68" cy="462.88" r="1.65" fill="#3e4a5b"/>
<circle cx="454.57" cy="414.62" r="1.65" fill="#3e4a5b"/>
<circle cx="452.18" cy="416.29" r="1.65" fill="#3e4a5b"/>
<circle cx="459.75" cy="465.24" r="1.65" fill="#3e4a5b"/>
<circle cx="447.76" cy="448.48" r="1.65" fill="#3e4a5b"/>
<circle cx="451.32" cy="411.49" r="1.65" fill="#3e4a5b"/>
<circle cx="459.15" cy="452.30" r="1.65" fill="#3e4a5b"/>
<circle cx="450.45" cy="466.87" r="1.65" fill="#3e4a5b"/>
<circle cx="454.23" cy="464.30" r="1.65" fill="#3e4a5b"/>
<circle cx="455.47" cy="467.31" r="1.65" fill="#3e4a5b"/>
<circle cx="454.91" cy="442.13" r="1.65" fill="#3e4a5b"/>
<circle cx="449.92" cy="460.56" r="1.65" fill="#3e4a5b"/>
<circle cx="445.88" cy="436.38" r="1.65" fill="#3e4a5b"/>
<circle cx="445.78" cy="459.18" r="1.65" fill="#3e4a5b"/>
<circle cx="446.74" cy="470.79" r="1.65" fill="#3e4a5b"/>
<circle cx="453.76" cy="479.27" r="1.65" fill="#3e4a5b"/>
<circle cx="455.58" cy="429.87" r="1.65" fill="#3e4a5b"/>
<circle cx="455.58" cy="458.87" r="1.65" fill="#3e4a5b"/>
<circle cx="451.80" cy="431.66" r="1.65" fill="#3e4a5b"/>
<circle cx="450.50" cy="470.15" r="1.65" fill="#3e4a5b"/>
<circle cx="449.61" cy="415.12" r="1.65" fill="#3e4a5b"/>
<circle cx="453.08" cy="471.02" r="1.65" fill="#3e4a5b"/>
<circle cx="453.85" cy="434.06" r="1.65" fill="#3e4a5b"/>
<circle cx="457.12" cy="440.02" r="1.65" fill="#3e4a5b"/>
<line x1="442.20" y1="449.30" x2="463.20" y2="449.30" stroke="#c4264a" stroke-width="1.1"/>
<path d="M470.20,408.30 L467.50,413.20 L468.80,425.00 L471.50,437.00 L474.00,448.20 L474.20,463.60 L475.80,463.60 L476.00,448.20 L478.50,437.00 L481.20,425.00 L482.50,413.20 L479.80,408.30Z" fill="none" stroke="#29abe2" stroke-width="0.7" stroke-linejoin="round"/>
<circle cx="475.00" cy="463.00" r="1.45" fill="#29abe2"/>
<circle cx="475.70" cy="433.55" r="1.45" fill="#29abe2"/>
<circle cx="473.87" cy="427.54" r="1.45" fill="#29abe2"/>
<circle cx="476.54" cy="428.01" r="1.45" fill="#29abe2"/>
<circle cx="474.12" cy="430.62" r="1.45" fill="#29abe2"/>
<circle cx="472.60" cy="412.28" r="1.45" fill="#29abe2"/>
<circle cx="478.42" cy="422.00" r="1.45" fill="#29abe2"/>
<circle cx="476.56" cy="424.01" r="1.45" fill="#29abe2"/>
<circle cx="475.18" cy="441.77" r="1.45" fill="#29abe2"/>
<circle cx="475.55" cy="410.74" r="1.45" fill="#29abe2"/>
<circle cx="471.76" cy="409.09" r="1.45" fill="#29abe2"/>
<circle cx="471.96" cy="432.39" r="1.45" fill="#29abe2"/>
<circle cx="475.00" cy="444.98" r="1.45" fill="#29abe2"/>
<circle cx="471.90" cy="423.45" r="1.45" fill="#29abe2"/>
<circle cx="472.46" cy="419.78" r="1.45" fill="#29abe2"/>
<circle cx="479.18" cy="410.56" r="1.45" fill="#29abe2"/>
<circle cx="477.10" cy="415.28" r="1.45" fill="#29abe2"/>
<circle cx="474.39" cy="414.49" r="1.45" fill="#29abe2"/>
<line x1="465.20" y1="428.20" x2="484.80" y2="428.20" stroke="#c4264a" stroke-width="1.1"/>
<rect x="242.30" y="588.00" width="15.00" height="60.75" fill="#35a8e0"/>
<rect x="242.30" y="648.75" width="15.00" height="13.25" fill="#c8102e"/>
<rect x="242.30" y="662.00" width="15.00" height="4.25" fill="#3aaa35"/>
<rect x="242.30" y="666.25" width="15.00" height="3.95" fill="#5a2d82"/>
<rect x="259.60" y="588.00" width="15.00" height="64.50" fill="#35a8e0"/>
<rect x="259.60" y="652.50" width="15.00" height="17.70" fill="#c8102e"/>
<rect x="276.90" y="588.00" width="15.00" height="58.25" fill="#35a8e0"/>
<rect x="276.90" y="646.25" width="15.00" height="20.00" fill="#c8102e"/>
<rect x="276.90" y="666.25" width="15.00" height="3.95" fill="#3aaa35"/>
<rect x="294.20" y="588.00" width="15.00" height="70.75" fill="#35a8e0"/>
<rect x="294.20" y="658.75" width="15.00" height="11.45" fill="#c8102e"/>
<rect x="311.50" y="588.00" width="15.00" height="66.50" fill="#35a8e0"/>
<rect x="311.50" y="654.50" width="15.00" height="15.70" fill="#c8102e"/>
<rect x="328.80" y="588.00" width="15.00" height="80.00" fill="#35a8e0"/>
<rect x="328.80" y="668.00" width="15.00" height="2.20" fill="#c8102e"/>
<rect x="346.10" y="588.00" width="15.00" height="77.00" fill="#35a8e0"/>
<rect x="346.10" y="665.00" width="15.00" height="5.20" fill="#c8102e"/>
<rect x="363.40" y="588.00" width="15.00" height="82.20" fill="#35a8e0"/>
<rect x="380.70" y="588.00" width="15.00" height="69.00" fill="#35a8e0"/>
<rect x="380.70" y="657.00" width="15.00" height="13.20" fill="#c8102e"/>
<rect x="398.00" y="588.00" width="15.00" height="72.75" fill="#35a8e0"/>
<rect x="398.00" y="660.75" width="15.00" height="9.45" fill="#c8102e"/>
<rect x="415.30" y="588.00" width="15.00" height="65.00" fill="#35a8e0"/>
<rect x="415.30" y="653.00" width="15.00" height="17.20" fill="#c8102e"/>
<line x1="239.80" y1="585.00" x2="239.80" y2="671.10" stroke="#231f20" stroke-width="1.1"/>
<line x1="239.30" y1="670.60" x2="432.50" y2="670.60" stroke="#231f20" stroke-width="1.1"/>
<line x1="236.30" y1="588.00" x2="239.80" y2="588.00" stroke="#231f20" stroke-width="0.9"/>
<text x="233.30" y="590.80" font-size="8.0" fill="#231f20" text-anchor="end">1</text>
<line x1="236.30" y1="608.65" x2="239.80" y2="608.65" stroke="#231f20" stroke-width="0.9"/>
<text x="233.30" y="611.45" font-size="8.0" fill="#231f20" text-anchor="end" textLength="17.20" lengthAdjust="spacingAndGlyphs">0.75</text>
<line x1="236.30" y1="629.30" x2="239.80" y2="629.30" stroke="#231f20" stroke-width="0.9"/>
<text x="233.30" y="632.10" font-size="8.0" fill="#231f20" text-anchor="end" textLength="17.20" lengthAdjust="spacingAndGlyphs">0.50</text>
<line x1="236.30" y1="649.95" x2="239.80" y2="649.95" stroke="#231f20" stroke-width="0.9"/>
<text x="233.30" y="652.75" font-size="8.0" fill="#231f20" text-anchor="end" textLength="17.20" lengthAdjust="spacingAndGlyphs">0.25</text>
<line x1="236.30" y1="670.60" x2="239.80" y2="670.60" stroke="#231f20" stroke-width="0.9"/>
<text x="233.30" y="673.40" font-size="8.0" fill="#231f20" text-anchor="end">0</text>
<line x1="249.80" y1="670.60" x2="249.80" y2="672.80" stroke="#231f20" stroke-width="0.8"/>
<text x="253.00" y="679.60" font-size="7.9" fill="#231f20" text-anchor="end" transform="rotate(-45 253.00 679.60)">TP53</text>
<text x="249.80" y="586.40" font-size="8.3" fill="#231f20" text-anchor="middle" textLength="13.50" lengthAdjust="spacingAndGlyphs">(56)</text>
<line x1="267.10" y1="670.60" x2="267.10" y2="672.80" stroke="#231f20" stroke-width="0.8"/>
<text x="270.30" y="679.60" font-size="7.9" fill="#231f20" text-anchor="end" transform="rotate(-45 270.30 679.60)">ATM</text>
<text x="267.10" y="586.40" font-size="8.3" fill="#231f20" text-anchor="middle" textLength="13.50" lengthAdjust="spacingAndGlyphs">(13)</text>
<line x1="284.40" y1="670.60" x2="284.40" y2="672.80" stroke="#231f20" stroke-width="0.8"/>
<text x="287.60" y="679.60" font-size="7.9" fill="#231f20" text-anchor="end" transform="rotate(-45 287.60 679.60)">DNMT3A</text>
<text x="284.40" y="586.40" font-size="8.3" fill="#231f20" text-anchor="middle" textLength="13.50" lengthAdjust="spacingAndGlyphs">(57)</text>
<line x1="301.70" y1="670.60" x2="301.70" y2="672.80" stroke="#231f20" stroke-width="0.8"/>
<text x="304.90" y="679.60" font-size="7.9" fill="#231f20" text-anchor="end" transform="rotate(-45 304.90 679.60)">TET2</text>
<text x="301.70" y="586.40" font-size="8.3" fill="#231f20" text-anchor="middle" textLength="13.50" lengthAdjust="spacingAndGlyphs">(41)</text>
<line x1="319.00" y1="670.60" x2="319.00" y2="672.80" stroke="#231f20" stroke-width="0.8"/>
<text x="322.20" y="679.60" font-size="7.9" fill="#231f20" text-anchor="end" transform="rotate(-45 322.20 679.60)">PPM1D</text>
<text x="319.00" y="586.40" font-size="8.3" fill="#231f20" text-anchor="middle" textLength="13.50" lengthAdjust="spacingAndGlyphs">(15)</text>
<line x1="336.30" y1="670.60" x2="336.30" y2="672.80" stroke="#231f20" stroke-width="0.8"/>
<text x="339.50" y="679.60" font-size="7.9" fill="#231f20" text-anchor="end" transform="rotate(-45 339.50 679.60)">KRAS</text>
<text x="336.30" y="586.40" font-size="8.3" fill="#231f20" text-anchor="middle" textLength="13.50" lengthAdjust="spacingAndGlyphs">(26)</text>
<line x1="353.60" y1="670.60" x2="353.60" y2="672.80" stroke="#231f20" stroke-width="0.8"/>
<text x="356.80" y="679.60" font-size="7.9" fill="#231f20" text-anchor="end" transform="rotate(-45 356.80 679.60)">BRAF</text>
<text x="353.60" y="586.40" font-size="8.3" fill="#231f20" text-anchor="middle" textLength="13.50" lengthAdjust="spacingAndGlyphs">(14)</text>
<line x1="370.90" y1="670.60" x2="370.90" y2="672.80" stroke="#231f20" stroke-width="0.8"/>
<text x="374.10" y="679.60" font-size="7.9" fill="#231f20" text-anchor="end" transform="rotate(-45 374.10 679.60)">NRAS</text>
<text x="370.90" y="586.40" font-size="8.3" fill="#231f20" text-anchor="middle" textLength="13.50" lengthAdjust="spacingAndGlyphs">(13)</text>
<line x1="388.20" y1="670.60" x2="388.20" y2="672.80" stroke="#231f20" stroke-width="0.8"/>
<text x="391.40" y="679.60" font-size="7.9" fill="#231f20" text-anchor="end" transform="rotate(-45 391.40 679.60)">DIS3</text>
<text x="388.20" y="586.40" font-size="8.3" fill="#231f20" text-anchor="middle" textLength="13.50" lengthAdjust="spacingAndGlyphs">(12)</text>
<line x1="405.50" y1="670.60" x2="405.50" y2="672.80" stroke="#231f20" stroke-width="0.8"/>
<text x="408.70" y="679.60" font-size="7.9" fill="#231f20" text-anchor="end" transform="rotate(-45 408.70 679.60)">Other</text>
<text x="405.50" y="586.40" font-size="8.3" fill="#231f20" text-anchor="middle" textLength="16.30" lengthAdjust="spacingAndGlyphs">(147)</text>
<line x1="422.80" y1="670.60" x2="422.80" y2="672.80" stroke="#231f20" stroke-width="0.8"/>
<text x="426.00" y="679.60" font-size="7.9" fill="#231f20" text-anchor="end" transform="rotate(-45 426.00 679.60)">Other CH</text>
<text x="422.80" y="586.40" font-size="8.3" fill="#231f20" text-anchor="middle" textLength="13.50" lengthAdjust="spacingAndGlyphs">(23)</text>
<text x="212.00" y="628.80" font-size="8.4" fill="#231f20" text-anchor="middle" textLength="62.50" lengthAdjust="spacingAndGlyphs" transform="rotate(-90 212.00 628.80)">Proportion of cases</text>
<path d="M249.80,552.60 L249.80,551.00 L405.60,551.00 L405.60,552.60" stroke="#3a3a3a" stroke-width="0.9" fill="none"/>
<text x="311.00" y="548.50" font-size="8.3" fill="#231f20" textLength="33.70" lengthAdjust="spacingAndGlyphs"><tspan font-style="italic">P</tspan> = .0031</text>
<path d="M284.50,563.80 L284.50,562.20 L405.60,562.20 L405.60,563.80" stroke="#3a3a3a" stroke-width="0.9" fill="none"/>
<text x="327.70" y="559.60" font-size="8.3" fill="#231f20" textLength="34.30" lengthAdjust="spacingAndGlyphs"><tspan font-style="italic">P</tspan> = .0054</text>
<path d="M284.50,575.20 L284.50,573.60 L337.00,573.60 L337.00,575.20" stroke="#3a3a3a" stroke-width="0.9" fill="none"/>
<text x="295.80" y="571.20" font-size="8.3" fill="#231f20" textLength="29.60" lengthAdjust="spacingAndGlyphs"><tspan font-style="italic">P</tspan> = .027</text>
<text x="440.20" y="599.60" font-size="8.0" fill="#231f20" textLength="39.80" lengthAdjust="spacingAndGlyphs">Number of</text>
<text x="440.20" y="607.10" font-size="8.0" fill="#231f20" textLength="36.50" lengthAdjust="spacingAndGlyphs">mutations</text>
<text x="440.20" y="614.60" font-size="8.0" fill="#231f20" textLength="31.50" lengthAdjust="spacingAndGlyphs">per case</text>
<rect x="440.20" y="619.80" width="5.80" height="5.80" fill="#35a8e0"/>
<text x="449.60" y="625.50" font-size="8.2" fill="#231f20">1</text>
<rect x="440.20" y="632.00" width="5.80" height="5.80" fill="#c8102e"/>
<text x="449.60" y="637.70" font-size="8.2" fill="#231f20">2</text>
<rect x="440.20" y="644.20" width="5.80" height="5.80" fill="#3aaa35"/>
<text x="449.60" y="649.90" font-size="8.2" fill="#231f20">3</text>
<rect x="440.20" y="656.40" width="5.80" height="5.80" fill="#5a2d82"/>
<text x="449.60" y="662.10" font-size="8.2" fill="#231f20" textLength="11.20" lengthAdjust="spacingAndGlyphs">≥ 4</text>
<rect x="0.5" y="0.5" width="519" height="713" fill="none" stroke="#4a4a4a" stroke-width="1.2"/>
</svg>
</body></html>
